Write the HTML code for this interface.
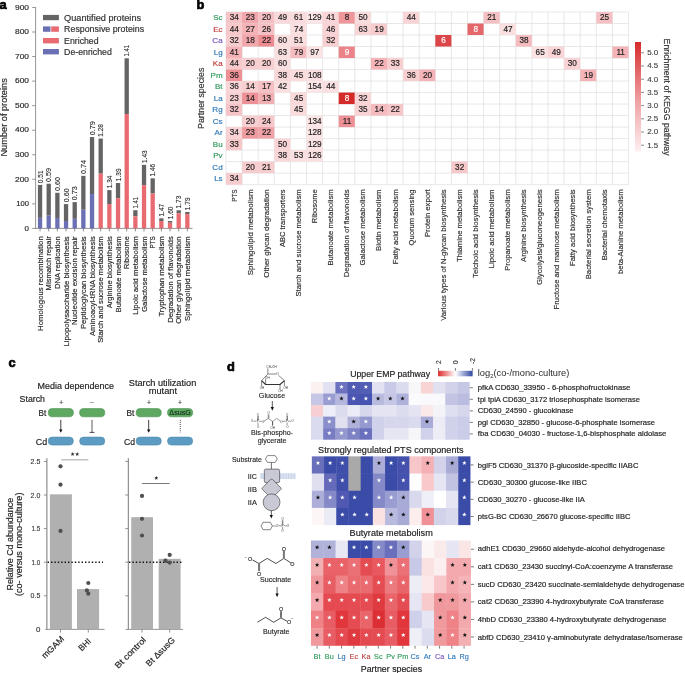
<!DOCTYPE html><html><head><meta charset="utf-8"><style>html,body{margin:0;padding:0;background:#fff;width:685px;height:673px;overflow:hidden}svg{display:block;will-change:transform}text{font-family:"Liberation Sans",sans-serif}</style></head><body>
<svg width="685" height="673" viewBox="0 0 685 673">
<text x="-0.60" y="8.90" font-size="12.8" fill="#000" font-weight="bold" stroke="#000" stroke-width="0.7">a</text>
<line x1="35.60" y1="7.00" x2="35.60" y2="228.40" stroke="#7a7a7a" stroke-width="0.8"/>
<line x1="35.20" y1="228.40" x2="192.50" y2="228.40" stroke="#7a7a7a" stroke-width="0.8"/>
<line x1="32.20" y1="228.40" x2="35.60" y2="228.40" stroke="#7a7a7a" stroke-width="0.8"/>
<text x="29.00" y="230.60" font-size="7.8" fill="#2a2a2a" stroke="#2a2a2a" stroke-width="0.180" text-anchor="end" textLength="4.40" lengthAdjust="spacingAndGlyphs">0</text>
<line x1="32.20" y1="203.85" x2="35.60" y2="203.85" stroke="#7a7a7a" stroke-width="0.8"/>
<text x="29.00" y="206.05" font-size="7.8" fill="#2a2a2a" stroke="#2a2a2a" stroke-width="0.180" text-anchor="end" textLength="12.71" lengthAdjust="spacingAndGlyphs">100</text>
<line x1="32.20" y1="179.30" x2="35.60" y2="179.30" stroke="#7a7a7a" stroke-width="0.8"/>
<text x="29.00" y="181.50" font-size="7.8" fill="#2a2a2a" stroke="#2a2a2a" stroke-width="0.180" text-anchor="end" textLength="14.01" lengthAdjust="spacingAndGlyphs">200</text>
<line x1="32.20" y1="154.75" x2="35.60" y2="154.75" stroke="#7a7a7a" stroke-width="0.8"/>
<text x="29.00" y="156.95" font-size="7.8" fill="#2a2a2a" stroke="#2a2a2a" stroke-width="0.180" text-anchor="end" textLength="14.01" lengthAdjust="spacingAndGlyphs">300</text>
<line x1="32.20" y1="130.20" x2="35.60" y2="130.20" stroke="#7a7a7a" stroke-width="0.8"/>
<text x="29.00" y="132.40" font-size="7.8" fill="#2a2a2a" stroke="#2a2a2a" stroke-width="0.180" text-anchor="end" textLength="14.01" lengthAdjust="spacingAndGlyphs">400</text>
<line x1="32.20" y1="105.65" x2="35.60" y2="105.65" stroke="#7a7a7a" stroke-width="0.8"/>
<text x="29.00" y="107.85" font-size="7.8" fill="#2a2a2a" stroke="#2a2a2a" stroke-width="0.180" text-anchor="end" textLength="14.01" lengthAdjust="spacingAndGlyphs">500</text>
<line x1="32.20" y1="81.10" x2="35.60" y2="81.10" stroke="#7a7a7a" stroke-width="0.8"/>
<text x="29.00" y="83.30" font-size="7.8" fill="#2a2a2a" stroke="#2a2a2a" stroke-width="0.180" text-anchor="end" textLength="14.01" lengthAdjust="spacingAndGlyphs">600</text>
<line x1="32.20" y1="56.55" x2="35.60" y2="56.55" stroke="#7a7a7a" stroke-width="0.8"/>
<text x="29.00" y="58.75" font-size="7.8" fill="#2a2a2a" stroke="#2a2a2a" stroke-width="0.180" text-anchor="end" textLength="14.01" lengthAdjust="spacingAndGlyphs">700</text>
<line x1="32.20" y1="32.00" x2="35.60" y2="32.00" stroke="#7a7a7a" stroke-width="0.8"/>
<text x="29.00" y="34.20" font-size="7.8" fill="#2a2a2a" stroke="#2a2a2a" stroke-width="0.180" text-anchor="end" textLength="14.01" lengthAdjust="spacingAndGlyphs">800</text>
<line x1="32.20" y1="7.45" x2="35.60" y2="7.45" stroke="#7a7a7a" stroke-width="0.8"/>
<text x="29.00" y="9.65" font-size="7.8" fill="#2a2a2a" stroke="#2a2a2a" stroke-width="0.180" text-anchor="end" textLength="14.01" lengthAdjust="spacingAndGlyphs">900</text>
<text x="0" y="0" font-size="9.0" fill="#2a2a2a" stroke="#2a2a2a" stroke-width="0.180" text-anchor="middle" textLength="78.30" lengthAdjust="spacingAndGlyphs" transform="translate(7.0,117.4) rotate(-90)">Number of proteins</text>
<rect x="43.00" y="14.90" width="15.90" height="5.30" fill="#646464"/>
<rect x="43.00" y="26.40" width="7.50" height="5.40" fill="#6b70b4"/>
<rect x="51.20" y="26.40" width="7.70" height="5.40" fill="#e86b72"/>
<rect x="43.00" y="38.00" width="15.90" height="5.40" fill="#e86b72"/>
<rect x="43.00" y="49.00" width="15.90" height="5.40" fill="#6b70b4"/>
<text x="64.10" y="20.80" font-size="8.2" fill="#333" stroke="#333" stroke-width="0.180" textLength="77.00" lengthAdjust="spacingAndGlyphs">Quantified proteins</text>
<text x="64.10" y="32.20" font-size="8.2" fill="#333" stroke="#333" stroke-width="0.180" textLength="80.00" lengthAdjust="spacingAndGlyphs">Responsive proteins</text>
<text x="64.10" y="43.70" font-size="8.2" fill="#333" stroke="#333" stroke-width="0.180" textLength="34.50" lengthAdjust="spacingAndGlyphs">Enriched</text>
<text x="64.10" y="55.00" font-size="8.2" fill="#333" stroke="#333" stroke-width="0.180" textLength="47.70" lengthAdjust="spacingAndGlyphs">De-enriched</text>
<rect x="37.90" y="184.95" width="4.30" height="32.90" fill="#646464"/>
<rect x="37.90" y="217.84" width="4.30" height="10.56" fill="#6b70b4"/>
<line x1="40.05" y1="228.40" x2="40.05" y2="231.40" stroke="#5a5a5a" stroke-width="0.7"/>
<text x="0" y="0" font-size="7.2" fill="#2a2a2a" stroke="#2a2a2a" stroke-width="0.126" textLength="12.70" lengthAdjust="spacingAndGlyphs" transform="translate(42.65,183.15) rotate(-90)">0.51</text>
<text x="0" y="0" font-size="8.0" fill="#2a2a2a" stroke="#2a2a2a" stroke-width="0.180" text-anchor="end" textLength="94.70" lengthAdjust="spacingAndGlyphs" transform="translate(42.75,236.30) rotate(-90)">Homologous recombination</text>
<rect x="46.56" y="183.72" width="4.30" height="31.92" fill="#646464"/>
<rect x="46.56" y="215.63" width="4.30" height="12.77" fill="#6b70b4"/>
<line x1="48.71" y1="228.40" x2="48.71" y2="231.40" stroke="#5a5a5a" stroke-width="0.7"/>
<text x="0" y="0" font-size="7.2" fill="#2a2a2a" stroke="#2a2a2a" stroke-width="0.126" textLength="14.00" lengthAdjust="spacingAndGlyphs" transform="translate(51.31,181.92) rotate(-90)">0.59</text>
<text x="0" y="0" font-size="8.0" fill="#2a2a2a" stroke="#2a2a2a" stroke-width="0.180" text-anchor="end" textLength="54.10" lengthAdjust="spacingAndGlyphs" transform="translate(51.41,236.30) rotate(-90)">Mismatch repair</text>
<rect x="55.23" y="192.80" width="4.30" height="25.29" fill="#646464"/>
<rect x="55.23" y="218.09" width="4.30" height="10.31" fill="#6b70b4"/>
<line x1="57.38" y1="228.40" x2="57.38" y2="231.40" stroke="#5a5a5a" stroke-width="0.7"/>
<text x="0" y="0" font-size="7.2" fill="#2a2a2a" stroke="#2a2a2a" stroke-width="0.126" textLength="14.00" lengthAdjust="spacingAndGlyphs" transform="translate(59.98,191.00) rotate(-90)">0.60</text>
<text x="0" y="0" font-size="8.0" fill="#2a2a2a" stroke="#2a2a2a" stroke-width="0.180" text-anchor="end" textLength="52.70" lengthAdjust="spacingAndGlyphs" transform="translate(60.08,236.30) rotate(-90)">DNA replication</text>
<rect x="63.89" y="204.10" width="4.30" height="16.94" fill="#646464"/>
<rect x="63.89" y="221.03" width="4.30" height="7.37" fill="#6b70b4"/>
<line x1="66.04" y1="228.40" x2="66.04" y2="231.40" stroke="#5a5a5a" stroke-width="0.7"/>
<text x="0" y="0" font-size="7.2" fill="#2a2a2a" stroke="#2a2a2a" stroke-width="0.126" textLength="14.00" lengthAdjust="spacingAndGlyphs" transform="translate(68.64,202.30) rotate(-90)">0.60</text>
<text x="0" y="0" font-size="8.0" fill="#2a2a2a" stroke="#2a2a2a" stroke-width="0.180" text-anchor="end" textLength="110.20" lengthAdjust="spacingAndGlyphs" transform="translate(68.74,236.30) rotate(-90)">Lipopolysaccharide biosynthesis</text>
<rect x="72.56" y="202.13" width="4.30" height="16.69" fill="#646464"/>
<rect x="72.56" y="218.83" width="4.30" height="9.57" fill="#6b70b4"/>
<line x1="74.71" y1="228.40" x2="74.71" y2="231.40" stroke="#5a5a5a" stroke-width="0.7"/>
<text x="0" y="0" font-size="7.2" fill="#2a2a2a" stroke="#2a2a2a" stroke-width="0.126" textLength="14.00" lengthAdjust="spacingAndGlyphs" transform="translate(77.31,200.33) rotate(-90)">0.73</text>
<text x="0" y="0" font-size="8.0" fill="#2a2a2a" stroke="#2a2a2a" stroke-width="0.180" text-anchor="end" textLength="88.60" lengthAdjust="spacingAndGlyphs" transform="translate(77.41,236.30) rotate(-90)">Nucleotide excision repair</text>
<rect x="81.22" y="175.86" width="4.30" height="33.88" fill="#646464"/>
<rect x="81.22" y="209.74" width="4.30" height="18.66" fill="#6b70b4"/>
<line x1="83.38" y1="228.40" x2="83.38" y2="231.40" stroke="#5a5a5a" stroke-width="0.7"/>
<text x="0" y="0" font-size="7.2" fill="#2a2a2a" stroke="#2a2a2a" stroke-width="0.126" textLength="14.00" lengthAdjust="spacingAndGlyphs" transform="translate(85.97,174.06) rotate(-90)">0.74</text>
<text x="0" y="0" font-size="8.0" fill="#2a2a2a" stroke="#2a2a2a" stroke-width="0.180" text-anchor="end" textLength="92.80" lengthAdjust="spacingAndGlyphs" transform="translate(86.08,236.30) rotate(-90)">Peptidoglycan biosynthesis</text>
<rect x="89.89" y="137.07" width="4.30" height="56.96" fill="#646464"/>
<rect x="89.89" y="194.03" width="4.30" height="34.37" fill="#6b70b4"/>
<line x1="92.04" y1="228.40" x2="92.04" y2="231.40" stroke="#5a5a5a" stroke-width="0.7"/>
<text x="0" y="0" font-size="7.2" fill="#2a2a2a" stroke="#2a2a2a" stroke-width="0.126" textLength="14.00" lengthAdjust="spacingAndGlyphs" transform="translate(94.64,135.27) rotate(-90)">0.79</text>
<text x="0" y="0" font-size="8.0" fill="#2a2a2a" stroke="#2a2a2a" stroke-width="0.180" text-anchor="end" textLength="99.70" lengthAdjust="spacingAndGlyphs" transform="translate(94.74,236.30) rotate(-90)">Aminoacyl-tRNA biosynthesis</text>
<rect x="98.55" y="138.55" width="4.30" height="35.11" fill="#646464"/>
<rect x="98.55" y="173.65" width="4.30" height="54.75" fill="#e86b72"/>
<line x1="100.70" y1="228.40" x2="100.70" y2="231.40" stroke="#5a5a5a" stroke-width="0.7"/>
<text x="0" y="0" font-size="7.2" fill="#2a2a2a" stroke="#2a2a2a" stroke-width="0.126" textLength="12.70" lengthAdjust="spacingAndGlyphs" transform="translate(103.30,136.75) rotate(-90)">1.28</text>
<text x="0" y="0" font-size="8.0" fill="#2a2a2a" stroke="#2a2a2a" stroke-width="0.180" text-anchor="end" textLength="106.50" lengthAdjust="spacingAndGlyphs" transform="translate(103.40,236.30) rotate(-90)">Starch and sucrose metabolism</text>
<rect x="107.22" y="190.10" width="4.30" height="13.99" fill="#646464"/>
<rect x="107.22" y="204.10" width="4.30" height="24.30" fill="#e86b72"/>
<line x1="109.37" y1="228.40" x2="109.37" y2="231.40" stroke="#5a5a5a" stroke-width="0.7"/>
<text x="0" y="0" font-size="7.2" fill="#2a2a2a" stroke="#2a2a2a" stroke-width="0.126" textLength="12.70" lengthAdjust="spacingAndGlyphs" transform="translate(111.97,188.30) rotate(-90)">1.34</text>
<text x="0" y="0" font-size="8.0" fill="#2a2a2a" stroke="#2a2a2a" stroke-width="0.180" text-anchor="end" textLength="72.00" lengthAdjust="spacingAndGlyphs" transform="translate(112.07,236.30) rotate(-90)">Arginine biosynthesis</text>
<rect x="115.88" y="182.98" width="4.30" height="15.22" fill="#646464"/>
<rect x="115.88" y="198.20" width="4.30" height="30.20" fill="#e86b72"/>
<line x1="118.03" y1="228.40" x2="118.03" y2="231.40" stroke="#5a5a5a" stroke-width="0.7"/>
<text x="0" y="0" font-size="7.2" fill="#2a2a2a" stroke="#2a2a2a" stroke-width="0.126" textLength="12.70" lengthAdjust="spacingAndGlyphs" transform="translate(120.63,181.18) rotate(-90)">1.39</text>
<text x="0" y="0" font-size="8.0" fill="#2a2a2a" stroke="#2a2a2a" stroke-width="0.180" text-anchor="end" textLength="76.10" lengthAdjust="spacingAndGlyphs" transform="translate(120.73,236.30) rotate(-90)">Butanoate metabolism</text>
<rect x="124.55" y="58.27" width="4.30" height="55.73" fill="#646464"/>
<rect x="124.55" y="114.00" width="4.30" height="114.40" fill="#e86b72"/>
<line x1="126.70" y1="228.40" x2="126.70" y2="231.40" stroke="#5a5a5a" stroke-width="0.7"/>
<text x="0" y="0" font-size="7.2" fill="#2a2a2a" stroke="#2a2a2a" stroke-width="0.126" textLength="11.40" lengthAdjust="spacingAndGlyphs" transform="translate(129.30,56.47) rotate(-90)">1.41</text>
<text x="0" y="0" font-size="8.0" fill="#2a2a2a" stroke="#2a2a2a" stroke-width="0.180" text-anchor="end" textLength="32.70" lengthAdjust="spacingAndGlyphs" transform="translate(129.40,236.30) rotate(-90)">Ribosome</text>
<rect x="133.22" y="210.23" width="4.30" height="6.14" fill="#646464"/>
<rect x="133.22" y="216.37" width="4.30" height="12.03" fill="#e86b72"/>
<line x1="135.37" y1="228.40" x2="135.37" y2="231.40" stroke="#5a5a5a" stroke-width="0.7"/>
<text x="0" y="0" font-size="7.2" fill="#2a2a2a" stroke="#2a2a2a" stroke-width="0.126" textLength="11.40" lengthAdjust="spacingAndGlyphs" transform="translate(137.97,208.43) rotate(-90)">1.41</text>
<text x="0" y="0" font-size="8.0" fill="#2a2a2a" stroke="#2a2a2a" stroke-width="0.180" text-anchor="end" textLength="78.40" lengthAdjust="spacingAndGlyphs" transform="translate(138.06,236.30) rotate(-90)">Lipoic acid metabolism</text>
<rect x="141.88" y="164.82" width="4.30" height="20.38" fill="#646464"/>
<rect x="141.88" y="185.19" width="4.30" height="43.21" fill="#e86b72"/>
<line x1="144.03" y1="228.40" x2="144.03" y2="231.40" stroke="#5a5a5a" stroke-width="0.7"/>
<text x="0" y="0" font-size="7.2" fill="#2a2a2a" stroke="#2a2a2a" stroke-width="0.126" textLength="12.70" lengthAdjust="spacingAndGlyphs" transform="translate(146.63,163.02) rotate(-90)">1.43</text>
<text x="0" y="0" font-size="8.0" fill="#2a2a2a" stroke="#2a2a2a" stroke-width="0.180" text-anchor="end" textLength="75.70" lengthAdjust="spacingAndGlyphs" transform="translate(146.73,236.30) rotate(-90)">Galactose metabolism</text>
<rect x="150.54" y="178.32" width="4.30" height="15.22" fill="#646464"/>
<rect x="150.54" y="193.54" width="4.30" height="34.86" fill="#e86b72"/>
<line x1="152.69" y1="228.40" x2="152.69" y2="231.40" stroke="#5a5a5a" stroke-width="0.7"/>
<text x="0" y="0" font-size="7.2" fill="#2a2a2a" stroke="#2a2a2a" stroke-width="0.126" textLength="12.70" lengthAdjust="spacingAndGlyphs" transform="translate(155.29,176.52) rotate(-90)">1.46</text>
<text x="0" y="0" font-size="8.0" fill="#2a2a2a" stroke="#2a2a2a" stroke-width="0.180" text-anchor="end" textLength="12.20" lengthAdjust="spacingAndGlyphs" transform="translate(155.39,236.30) rotate(-90)">PTS</text>
<rect x="159.21" y="218.33" width="4.30" height="2.70" fill="#646464"/>
<rect x="159.21" y="221.03" width="4.30" height="7.37" fill="#e86b72"/>
<line x1="161.36" y1="228.40" x2="161.36" y2="231.40" stroke="#5a5a5a" stroke-width="0.7"/>
<text x="0" y="0" font-size="7.2" fill="#2a2a2a" stroke="#2a2a2a" stroke-width="0.126" textLength="12.70" lengthAdjust="spacingAndGlyphs" transform="translate(163.96,216.53) rotate(-90)">1.47</text>
<text x="0" y="0" font-size="8.0" fill="#2a2a2a" stroke="#2a2a2a" stroke-width="0.180" text-anchor="end" textLength="80.30" lengthAdjust="spacingAndGlyphs" transform="translate(164.06,236.30) rotate(-90)">Tryptophan metabolism</text>
<rect x="167.87" y="221.03" width="4.30" height="1.72" fill="#646464"/>
<rect x="167.87" y="222.75" width="4.30" height="5.65" fill="#e86b72"/>
<line x1="170.02" y1="228.40" x2="170.02" y2="231.40" stroke="#5a5a5a" stroke-width="0.7"/>
<text x="0" y="0" font-size="7.2" fill="#2a2a2a" stroke="#2a2a2a" stroke-width="0.126" textLength="12.70" lengthAdjust="spacingAndGlyphs" transform="translate(172.62,219.23) rotate(-90)">1.60</text>
<text x="0" y="0" font-size="8.0" fill="#2a2a2a" stroke="#2a2a2a" stroke-width="0.180" text-anchor="end" textLength="86.50" lengthAdjust="spacingAndGlyphs" transform="translate(172.72,236.30) rotate(-90)">Degradation of flavonoids</text>
<rect x="176.54" y="210.23" width="4.30" height="2.95" fill="#646464"/>
<rect x="176.54" y="213.18" width="4.30" height="15.22" fill="#e86b72"/>
<line x1="178.69" y1="228.40" x2="178.69" y2="231.40" stroke="#5a5a5a" stroke-width="0.7"/>
<text x="0" y="0" font-size="7.2" fill="#2a2a2a" stroke="#2a2a2a" stroke-width="0.126" textLength="12.70" lengthAdjust="spacingAndGlyphs" transform="translate(181.29,208.43) rotate(-90)">1.73</text>
<text x="0" y="0" font-size="8.0" fill="#2a2a2a" stroke="#2a2a2a" stroke-width="0.180" text-anchor="end" textLength="87.40" lengthAdjust="spacingAndGlyphs" transform="translate(181.39,236.30) rotate(-90)">Other glycan degradation</text>
<rect x="185.20" y="211.95" width="4.30" height="2.21" fill="#646464"/>
<rect x="185.20" y="214.16" width="4.30" height="14.24" fill="#e86b72"/>
<line x1="187.35" y1="228.40" x2="187.35" y2="231.40" stroke="#5a5a5a" stroke-width="0.7"/>
<text x="0" y="0" font-size="7.2" fill="#2a2a2a" stroke="#2a2a2a" stroke-width="0.126" textLength="12.70" lengthAdjust="spacingAndGlyphs" transform="translate(189.95,210.15) rotate(-90)">1.79</text>
<text x="0" y="0" font-size="8.0" fill="#2a2a2a" stroke="#2a2a2a" stroke-width="0.180" text-anchor="end" textLength="84.70" lengthAdjust="spacingAndGlyphs" transform="translate(190.05,236.30) rotate(-90)">Sphingolipid metabolism</text>
<text x="196.40" y="9.20" font-size="12.8" fill="#000" font-weight="bold" stroke="#000" stroke-width="0.7">b</text>
<line x1="226.00" y1="12.00" x2="628.50" y2="12.00" stroke="#dedede" stroke-width="0.7"/>
<line x1="226.00" y1="23.51" x2="628.50" y2="23.51" stroke="#dedede" stroke-width="0.7"/>
<line x1="226.00" y1="35.02" x2="628.50" y2="35.02" stroke="#dedede" stroke-width="0.7"/>
<line x1="226.00" y1="46.53" x2="628.50" y2="46.53" stroke="#dedede" stroke-width="0.7"/>
<line x1="226.00" y1="58.04" x2="628.50" y2="58.04" stroke="#dedede" stroke-width="0.7"/>
<line x1="226.00" y1="69.55" x2="628.50" y2="69.55" stroke="#dedede" stroke-width="0.7"/>
<line x1="226.00" y1="81.06" x2="628.50" y2="81.06" stroke="#dedede" stroke-width="0.7"/>
<line x1="226.00" y1="92.57" x2="628.50" y2="92.57" stroke="#dedede" stroke-width="0.7"/>
<line x1="226.00" y1="104.08" x2="628.50" y2="104.08" stroke="#dedede" stroke-width="0.7"/>
<line x1="226.00" y1="115.59" x2="628.50" y2="115.59" stroke="#dedede" stroke-width="0.7"/>
<line x1="226.00" y1="127.10" x2="628.50" y2="127.10" stroke="#dedede" stroke-width="0.7"/>
<line x1="226.00" y1="138.61" x2="628.50" y2="138.61" stroke="#dedede" stroke-width="0.7"/>
<line x1="226.00" y1="150.12" x2="628.50" y2="150.12" stroke="#dedede" stroke-width="0.7"/>
<line x1="226.00" y1="161.63" x2="628.50" y2="161.63" stroke="#dedede" stroke-width="0.7"/>
<line x1="226.00" y1="173.14" x2="628.50" y2="173.14" stroke="#dedede" stroke-width="0.7"/>
<line x1="226.00" y1="184.65" x2="628.50" y2="184.65" stroke="#dedede" stroke-width="0.7"/>
<line x1="226.00" y1="12.00" x2="226.00" y2="184.65" stroke="#dedede" stroke-width="0.7"/>
<line x1="242.10" y1="12.00" x2="242.10" y2="184.65" stroke="#dedede" stroke-width="0.7"/>
<line x1="258.20" y1="12.00" x2="258.20" y2="184.65" stroke="#dedede" stroke-width="0.7"/>
<line x1="274.30" y1="12.00" x2="274.30" y2="184.65" stroke="#dedede" stroke-width="0.7"/>
<line x1="290.40" y1="12.00" x2="290.40" y2="184.65" stroke="#dedede" stroke-width="0.7"/>
<line x1="306.50" y1="12.00" x2="306.50" y2="184.65" stroke="#dedede" stroke-width="0.7"/>
<line x1="322.60" y1="12.00" x2="322.60" y2="184.65" stroke="#dedede" stroke-width="0.7"/>
<line x1="338.70" y1="12.00" x2="338.70" y2="184.65" stroke="#dedede" stroke-width="0.7"/>
<line x1="354.80" y1="12.00" x2="354.80" y2="184.65" stroke="#dedede" stroke-width="0.7"/>
<line x1="370.90" y1="12.00" x2="370.90" y2="184.65" stroke="#dedede" stroke-width="0.7"/>
<line x1="387.00" y1="12.00" x2="387.00" y2="184.65" stroke="#dedede" stroke-width="0.7"/>
<line x1="403.10" y1="12.00" x2="403.10" y2="184.65" stroke="#dedede" stroke-width="0.7"/>
<line x1="419.20" y1="12.00" x2="419.20" y2="184.65" stroke="#dedede" stroke-width="0.7"/>
<line x1="435.30" y1="12.00" x2="435.30" y2="184.65" stroke="#dedede" stroke-width="0.7"/>
<line x1="451.40" y1="12.00" x2="451.40" y2="184.65" stroke="#dedede" stroke-width="0.7"/>
<line x1="467.50" y1="12.00" x2="467.50" y2="184.65" stroke="#dedede" stroke-width="0.7"/>
<line x1="483.60" y1="12.00" x2="483.60" y2="184.65" stroke="#dedede" stroke-width="0.7"/>
<line x1="499.70" y1="12.00" x2="499.70" y2="184.65" stroke="#dedede" stroke-width="0.7"/>
<line x1="515.80" y1="12.00" x2="515.80" y2="184.65" stroke="#dedede" stroke-width="0.7"/>
<line x1="531.90" y1="12.00" x2="531.90" y2="184.65" stroke="#dedede" stroke-width="0.7"/>
<line x1="548.00" y1="12.00" x2="548.00" y2="184.65" stroke="#dedede" stroke-width="0.7"/>
<line x1="564.10" y1="12.00" x2="564.10" y2="184.65" stroke="#dedede" stroke-width="0.7"/>
<line x1="580.20" y1="12.00" x2="580.20" y2="184.65" stroke="#dedede" stroke-width="0.7"/>
<line x1="596.30" y1="12.00" x2="596.30" y2="184.65" stroke="#dedede" stroke-width="0.7"/>
<line x1="612.40" y1="12.00" x2="612.40" y2="184.65" stroke="#dedede" stroke-width="0.7"/>
<line x1="628.50" y1="12.00" x2="628.50" y2="184.65" stroke="#dedede" stroke-width="0.7"/>
<rect x="226.00" y="12.00" width="16.10" height="11.51" fill="#f6c3c6"/>
<text x="234.25" y="20.05" font-size="8.2" fill="#1e1e1e" stroke="#1e1e1e" stroke-width="0.180" text-anchor="middle">34</text>
<rect x="242.10" y="12.00" width="16.10" height="11.51" fill="#f1a7ab"/>
<text x="250.35" y="20.05" font-size="8.2" fill="#1e1e1e" stroke="#1e1e1e" stroke-width="0.180" text-anchor="middle">23</text>
<rect x="258.20" y="12.00" width="16.10" height="11.51" fill="#f5c0c3"/>
<text x="266.45" y="20.05" font-size="8.2" fill="#1e1e1e" stroke="#1e1e1e" stroke-width="0.180" text-anchor="middle">20</text>
<rect x="274.30" y="12.00" width="16.10" height="11.51" fill="#f9d9da"/>
<text x="282.55" y="20.05" font-size="8.2" fill="#1e1e1e" stroke="#1e1e1e" stroke-width="0.180" text-anchor="middle">49</text>
<rect x="290.40" y="12.00" width="16.10" height="11.51" fill="#fadcdd"/>
<text x="298.65" y="20.05" font-size="8.2" fill="#1e1e1e" stroke="#1e1e1e" stroke-width="0.180" text-anchor="middle">61</text>
<rect x="306.50" y="12.00" width="16.10" height="11.51" fill="#fce6e7"/>
<text x="314.75" y="20.05" font-size="8.2" fill="#1e1e1e" stroke="#1e1e1e" stroke-width="0.180" text-anchor="middle">129</text>
<rect x="322.60" y="12.00" width="16.10" height="11.51" fill="#f9d5d7"/>
<text x="330.85" y="20.05" font-size="8.2" fill="#1e1e1e" stroke="#1e1e1e" stroke-width="0.180" text-anchor="middle">41</text>
<rect x="338.70" y="12.00" width="16.10" height="11.51" fill="#ee969a"/>
<text x="346.95" y="20.05" font-size="8.2" fill="#1e1e1e" stroke="#1e1e1e" stroke-width="0.180" text-anchor="middle">8</text>
<rect x="354.80" y="12.00" width="16.10" height="11.51" fill="#fadcdd"/>
<text x="363.05" y="20.05" font-size="8.2" fill="#1e1e1e" stroke="#1e1e1e" stroke-width="0.180" text-anchor="middle">50</text>
<rect x="403.10" y="12.00" width="16.10" height="11.51" fill="#f8d4d6"/>
<text x="411.35" y="20.05" font-size="8.2" fill="#1e1e1e" stroke="#1e1e1e" stroke-width="0.180" text-anchor="middle">44</text>
<rect x="483.60" y="12.00" width="16.10" height="11.51" fill="#f5c0c3"/>
<text x="491.85" y="20.05" font-size="8.2" fill="#1e1e1e" stroke="#1e1e1e" stroke-width="0.180" text-anchor="middle">21</text>
<rect x="596.30" y="12.00" width="16.10" height="11.51" fill="#f5c0c3"/>
<text x="604.55" y="20.05" font-size="8.2" fill="#1e1e1e" stroke="#1e1e1e" stroke-width="0.180" text-anchor="middle">25</text>
<text x="222.60" y="20.36" font-size="8.0" fill="#2f9a5c" stroke="#2f9a5c" stroke-width="0.180" text-anchor="end">Sc</text>
<rect x="226.00" y="23.51" width="16.10" height="11.51" fill="#f6c8ca"/>
<text x="234.25" y="31.56" font-size="8.2" fill="#1e1e1e" stroke="#1e1e1e" stroke-width="0.180" text-anchor="middle">44</text>
<rect x="242.10" y="23.51" width="16.10" height="11.51" fill="#f3b3b7"/>
<text x="250.35" y="31.56" font-size="8.2" fill="#1e1e1e" stroke="#1e1e1e" stroke-width="0.180" text-anchor="middle">27</text>
<rect x="258.20" y="23.51" width="16.10" height="11.51" fill="#f5c0c3"/>
<text x="266.45" y="31.56" font-size="8.2" fill="#1e1e1e" stroke="#1e1e1e" stroke-width="0.180" text-anchor="middle">26</text>
<rect x="290.40" y="23.51" width="16.10" height="11.51" fill="#fadfe0"/>
<text x="298.65" y="31.56" font-size="8.2" fill="#1e1e1e" stroke="#1e1e1e" stroke-width="0.180" text-anchor="middle">74</text>
<rect x="322.60" y="23.51" width="16.10" height="11.51" fill="#f8d2d4"/>
<text x="330.85" y="31.56" font-size="8.2" fill="#1e1e1e" stroke="#1e1e1e" stroke-width="0.180" text-anchor="middle">46</text>
<rect x="354.80" y="23.51" width="16.10" height="11.51" fill="#f9d5d7"/>
<text x="363.05" y="31.56" font-size="8.2" fill="#1e1e1e" stroke="#1e1e1e" stroke-width="0.180" text-anchor="middle">63</text>
<rect x="370.90" y="23.51" width="16.10" height="11.51" fill="#f7ccce"/>
<text x="379.15" y="31.56" font-size="8.2" fill="#1e1e1e" stroke="#1e1e1e" stroke-width="0.180" text-anchor="middle">19</text>
<rect x="467.50" y="23.51" width="16.10" height="11.51" fill="#e4676b"/>
<text x="475.75" y="31.56" font-size="8.2" fill="#fff" stroke="#fff" stroke-width="0.180" text-anchor="middle">8</text>
<rect x="499.70" y="23.51" width="16.10" height="11.51" fill="#fadfe0"/>
<text x="507.95" y="31.56" font-size="8.2" fill="#1e1e1e" stroke="#1e1e1e" stroke-width="0.180" text-anchor="middle">47</text>
<text x="222.60" y="31.86" font-size="8.0" fill="#c03f3f" stroke="#c03f3f" stroke-width="0.180" text-anchor="end">Ec</text>
<rect x="226.00" y="35.02" width="16.10" height="11.51" fill="#f7ccce"/>
<text x="234.25" y="43.07" font-size="8.2" fill="#1e1e1e" stroke="#1e1e1e" stroke-width="0.180" text-anchor="middle">32</text>
<rect x="242.10" y="35.02" width="16.10" height="11.51" fill="#f1a7ab"/>
<text x="250.35" y="43.07" font-size="8.2" fill="#1e1e1e" stroke="#1e1e1e" stroke-width="0.180" text-anchor="middle">18</text>
<rect x="258.20" y="35.02" width="16.10" height="11.51" fill="#ec8b90"/>
<text x="266.45" y="43.07" font-size="8.2" fill="#1e1e1e" stroke="#1e1e1e" stroke-width="0.180" text-anchor="middle">22</text>
<rect x="274.30" y="35.02" width="16.10" height="11.51" fill="#fadfe0"/>
<text x="282.55" y="43.07" font-size="8.2" fill="#1e1e1e" stroke="#1e1e1e" stroke-width="0.180" text-anchor="middle">60</text>
<rect x="290.40" y="35.02" width="16.10" height="11.51" fill="#fadcdd"/>
<text x="298.65" y="43.07" font-size="8.2" fill="#1e1e1e" stroke="#1e1e1e" stroke-width="0.180" text-anchor="middle">51</text>
<rect x="322.60" y="35.02" width="16.10" height="11.51" fill="#f8cfd1"/>
<text x="330.85" y="43.07" font-size="8.2" fill="#1e1e1e" stroke="#1e1e1e" stroke-width="0.180" text-anchor="middle">32</text>
<rect x="435.30" y="35.02" width="16.10" height="11.51" fill="#dc4648"/>
<text x="443.55" y="43.07" font-size="8.2" fill="#fff" stroke="#fff" stroke-width="0.180" text-anchor="middle">6</text>
<rect x="515.80" y="35.02" width="16.10" height="11.51" fill="#f4bcbf"/>
<text x="524.05" y="43.07" font-size="8.2" fill="#1e1e1e" stroke="#1e1e1e" stroke-width="0.180" text-anchor="middle">38</text>
<text x="222.60" y="43.38" font-size="8.0" fill="#7a55bb" stroke="#7a55bb" stroke-width="0.180" text-anchor="end">Ca</text>
<rect x="226.00" y="46.53" width="16.10" height="11.51" fill="#f3b3b7"/>
<text x="234.25" y="54.59" font-size="8.2" fill="#1e1e1e" stroke="#1e1e1e" stroke-width="0.180" text-anchor="middle">41</text>
<rect x="274.30" y="46.53" width="16.10" height="11.51" fill="#fadfe0"/>
<text x="282.55" y="54.59" font-size="8.2" fill="#1e1e1e" stroke="#1e1e1e" stroke-width="0.180" text-anchor="middle">63</text>
<rect x="290.40" y="46.53" width="16.10" height="11.51" fill="#f4bcbf"/>
<text x="298.65" y="54.59" font-size="8.2" fill="#1e1e1e" stroke="#1e1e1e" stroke-width="0.180" text-anchor="middle">79</text>
<rect x="306.50" y="46.53" width="16.10" height="11.51" fill="#fbe3e4"/>
<text x="314.75" y="54.59" font-size="8.2" fill="#1e1e1e" stroke="#1e1e1e" stroke-width="0.180" text-anchor="middle">97</text>
<rect x="338.70" y="46.53" width="16.10" height="11.51" fill="#ea8489"/>
<text x="346.95" y="54.59" font-size="8.2" fill="#fff" stroke="#fff" stroke-width="0.180" text-anchor="middle">9</text>
<rect x="531.90" y="46.53" width="16.10" height="11.51" fill="#fbe2e3"/>
<text x="540.15" y="54.59" font-size="8.2" fill="#1e1e1e" stroke="#1e1e1e" stroke-width="0.180" text-anchor="middle">65</text>
<rect x="548.00" y="46.53" width="16.10" height="11.51" fill="#f9d5d7"/>
<text x="556.25" y="54.59" font-size="8.2" fill="#1e1e1e" stroke="#1e1e1e" stroke-width="0.180" text-anchor="middle">49</text>
<rect x="612.40" y="46.53" width="16.10" height="11.51" fill="#f3b3b7"/>
<text x="620.65" y="54.59" font-size="8.2" fill="#1e1e1e" stroke="#1e1e1e" stroke-width="0.180" text-anchor="middle">11</text>
<text x="222.60" y="54.89" font-size="8.0" fill="#2f78b8" stroke="#2f78b8" stroke-width="0.180" text-anchor="end">Lg</text>
<rect x="226.00" y="58.04" width="16.10" height="11.51" fill="#f6c8ca"/>
<text x="234.25" y="66.09" font-size="8.2" fill="#1e1e1e" stroke="#1e1e1e" stroke-width="0.180" text-anchor="middle">44</text>
<rect x="242.10" y="58.04" width="16.10" height="11.51" fill="#f8cfd1"/>
<text x="250.35" y="66.09" font-size="8.2" fill="#1e1e1e" stroke="#1e1e1e" stroke-width="0.180" text-anchor="middle">20</text>
<rect x="258.20" y="58.04" width="16.10" height="11.51" fill="#f8cfd1"/>
<text x="266.45" y="66.09" font-size="8.2" fill="#1e1e1e" stroke="#1e1e1e" stroke-width="0.180" text-anchor="middle">20</text>
<rect x="274.30" y="58.04" width="16.10" height="11.51" fill="#fadfe0"/>
<text x="282.55" y="66.09" font-size="8.2" fill="#1e1e1e" stroke="#1e1e1e" stroke-width="0.180" text-anchor="middle">60</text>
<rect x="370.90" y="58.04" width="16.10" height="11.51" fill="#f3b3b7"/>
<text x="379.15" y="66.09" font-size="8.2" fill="#1e1e1e" stroke="#1e1e1e" stroke-width="0.180" text-anchor="middle">22</text>
<rect x="387.00" y="58.04" width="16.10" height="11.51" fill="#f8cfd1"/>
<text x="395.25" y="66.09" font-size="8.2" fill="#1e1e1e" stroke="#1e1e1e" stroke-width="0.180" text-anchor="middle">33</text>
<rect x="564.10" y="58.04" width="16.10" height="11.51" fill="#f8d2d4"/>
<text x="572.35" y="66.09" font-size="8.2" fill="#1e1e1e" stroke="#1e1e1e" stroke-width="0.180" text-anchor="middle">30</text>
<text x="222.60" y="66.39" font-size="8.0" fill="#c03f3f" stroke="#c03f3f" stroke-width="0.180" text-anchor="end">Ka</text>
<rect x="226.00" y="69.55" width="16.10" height="11.51" fill="#ed9196"/>
<text x="234.25" y="77.60" font-size="8.2" fill="#1e1e1e" stroke="#1e1e1e" stroke-width="0.180" text-anchor="middle">36</text>
<rect x="274.30" y="69.55" width="16.10" height="11.51" fill="#f9d7d8"/>
<text x="282.55" y="77.60" font-size="8.2" fill="#1e1e1e" stroke="#1e1e1e" stroke-width="0.180" text-anchor="middle">38</text>
<rect x="290.40" y="69.55" width="16.10" height="11.51" fill="#fadcdd"/>
<text x="298.65" y="77.60" font-size="8.2" fill="#1e1e1e" stroke="#1e1e1e" stroke-width="0.180" text-anchor="middle">45</text>
<rect x="306.50" y="69.55" width="16.10" height="11.51" fill="#fadfe0"/>
<text x="314.75" y="77.60" font-size="8.2" fill="#1e1e1e" stroke="#1e1e1e" stroke-width="0.180" text-anchor="middle">108</text>
<rect x="403.10" y="69.55" width="16.10" height="11.51" fill="#f8cfd1"/>
<text x="411.35" y="77.60" font-size="8.2" fill="#1e1e1e" stroke="#1e1e1e" stroke-width="0.180" text-anchor="middle">36</text>
<rect x="419.20" y="69.55" width="16.10" height="11.51" fill="#f3b3b7"/>
<text x="427.45" y="77.60" font-size="8.2" fill="#1e1e1e" stroke="#1e1e1e" stroke-width="0.180" text-anchor="middle">20</text>
<rect x="580.20" y="69.55" width="16.10" height="11.51" fill="#f3b3b7"/>
<text x="588.45" y="77.60" font-size="8.2" fill="#1e1e1e" stroke="#1e1e1e" stroke-width="0.180" text-anchor="middle">19</text>
<text x="222.60" y="77.90" font-size="8.0" fill="#2f9a5c" stroke="#2f9a5c" stroke-width="0.180" text-anchor="end">Pm</text>
<rect x="226.00" y="81.06" width="16.10" height="11.51" fill="#f9d5d7"/>
<text x="234.25" y="89.11" font-size="8.2" fill="#1e1e1e" stroke="#1e1e1e" stroke-width="0.180" text-anchor="middle">36</text>
<rect x="242.10" y="81.06" width="16.10" height="11.51" fill="#f8cfd1"/>
<text x="250.35" y="89.11" font-size="8.2" fill="#1e1e1e" stroke="#1e1e1e" stroke-width="0.180" text-anchor="middle">14</text>
<rect x="258.20" y="81.06" width="16.10" height="11.51" fill="#f5c0c3"/>
<text x="266.45" y="89.11" font-size="8.2" fill="#1e1e1e" stroke="#1e1e1e" stroke-width="0.180" text-anchor="middle">17</text>
<rect x="274.30" y="81.06" width="16.10" height="11.51" fill="#fadfe0"/>
<text x="282.55" y="89.11" font-size="8.2" fill="#1e1e1e" stroke="#1e1e1e" stroke-width="0.180" text-anchor="middle">42</text>
<rect x="306.50" y="81.06" width="16.10" height="11.51" fill="#fce6e7"/>
<text x="314.75" y="89.11" font-size="8.2" fill="#1e1e1e" stroke="#1e1e1e" stroke-width="0.180" text-anchor="middle">154</text>
<rect x="322.60" y="81.06" width="16.10" height="11.51" fill="#fadfe0"/>
<text x="330.85" y="89.11" font-size="8.2" fill="#1e1e1e" stroke="#1e1e1e" stroke-width="0.180" text-anchor="middle">44</text>
<text x="222.60" y="89.41" font-size="8.0" fill="#2f9a5c" stroke="#2f9a5c" stroke-width="0.180" text-anchor="end">Bt</text>
<rect x="226.00" y="92.57" width="16.10" height="11.51" fill="#f8cfd1"/>
<text x="234.25" y="100.62" font-size="8.2" fill="#1e1e1e" stroke="#1e1e1e" stroke-width="0.180" text-anchor="middle">23</text>
<rect x="242.10" y="92.57" width="16.10" height="11.51" fill="#ed9196"/>
<text x="250.35" y="100.62" font-size="8.2" fill="#1e1e1e" stroke="#1e1e1e" stroke-width="0.180" text-anchor="middle">14</text>
<rect x="258.20" y="92.57" width="16.10" height="11.51" fill="#f2afb3"/>
<text x="266.45" y="100.62" font-size="8.2" fill="#1e1e1e" stroke="#1e1e1e" stroke-width="0.180" text-anchor="middle">13</text>
<rect x="290.40" y="92.57" width="16.10" height="11.51" fill="#f9d9da"/>
<text x="298.65" y="100.62" font-size="8.2" fill="#1e1e1e" stroke="#1e1e1e" stroke-width="0.180" text-anchor="middle">45</text>
<rect x="338.70" y="92.57" width="16.10" height="11.51" fill="#d42a2a"/>
<text x="346.95" y="100.62" font-size="8.2" fill="#fff" stroke="#fff" stroke-width="0.180" text-anchor="middle">8</text>
<rect x="354.80" y="92.57" width="16.10" height="11.51" fill="#f9d5d7"/>
<text x="363.05" y="100.62" font-size="8.2" fill="#1e1e1e" stroke="#1e1e1e" stroke-width="0.180" text-anchor="middle">32</text>
<text x="222.60" y="100.92" font-size="8.0" fill="#2f78b8" stroke="#2f78b8" stroke-width="0.180" text-anchor="end">La</text>
<rect x="226.00" y="104.08" width="16.10" height="11.51" fill="#f6c3c6"/>
<text x="234.25" y="112.13" font-size="8.2" fill="#1e1e1e" stroke="#1e1e1e" stroke-width="0.180" text-anchor="middle">32</text>
<rect x="290.40" y="104.08" width="16.10" height="11.51" fill="#fadcdd"/>
<text x="298.65" y="112.13" font-size="8.2" fill="#1e1e1e" stroke="#1e1e1e" stroke-width="0.180" text-anchor="middle">45</text>
<rect x="354.80" y="104.08" width="16.10" height="11.51" fill="#f8d2d4"/>
<text x="363.05" y="112.13" font-size="8.2" fill="#1e1e1e" stroke="#1e1e1e" stroke-width="0.180" text-anchor="middle">35</text>
<rect x="370.90" y="104.08" width="16.10" height="11.51" fill="#f4bcbf"/>
<text x="379.15" y="112.13" font-size="8.2" fill="#1e1e1e" stroke="#1e1e1e" stroke-width="0.180" text-anchor="middle">14</text>
<rect x="387.00" y="104.08" width="16.10" height="11.51" fill="#f6c6c9"/>
<text x="395.25" y="112.13" font-size="8.2" fill="#1e1e1e" stroke="#1e1e1e" stroke-width="0.180" text-anchor="middle">22</text>
<text x="222.60" y="112.43" font-size="8.0" fill="#2f78b8" stroke="#2f78b8" stroke-width="0.180" text-anchor="end">Rg</text>
<rect x="242.10" y="115.59" width="16.10" height="11.51" fill="#f8cfd1"/>
<text x="250.35" y="123.64" font-size="8.2" fill="#1e1e1e" stroke="#1e1e1e" stroke-width="0.180" text-anchor="middle">20</text>
<rect x="258.20" y="115.59" width="16.10" height="11.51" fill="#f6c8ca"/>
<text x="266.45" y="123.64" font-size="8.2" fill="#1e1e1e" stroke="#1e1e1e" stroke-width="0.180" text-anchor="middle">24</text>
<rect x="306.50" y="115.59" width="16.10" height="11.51" fill="#fbe5e5"/>
<text x="314.75" y="123.64" font-size="8.2" fill="#1e1e1e" stroke="#1e1e1e" stroke-width="0.180" text-anchor="middle">134</text>
<rect x="338.70" y="115.59" width="16.10" height="11.51" fill="#ed9196"/>
<text x="346.95" y="123.64" font-size="8.2" fill="#1e1e1e" stroke="#1e1e1e" stroke-width="0.180" text-anchor="middle">11</text>
<text x="222.60" y="123.94" font-size="8.0" fill="#2f78b8" stroke="#2f78b8" stroke-width="0.180" text-anchor="end">Cs</text>
<rect x="226.00" y="127.10" width="16.10" height="11.51" fill="#f8d2d4"/>
<text x="234.25" y="135.16" font-size="8.2" fill="#1e1e1e" stroke="#1e1e1e" stroke-width="0.180" text-anchor="middle">34</text>
<rect x="242.10" y="127.10" width="16.10" height="11.51" fill="#ef9ca0"/>
<text x="250.35" y="135.16" font-size="8.2" fill="#1e1e1e" stroke="#1e1e1e" stroke-width="0.180" text-anchor="middle">23</text>
<rect x="258.20" y="127.10" width="16.10" height="11.51" fill="#f0a2a6"/>
<text x="266.45" y="135.16" font-size="8.2" fill="#1e1e1e" stroke="#1e1e1e" stroke-width="0.180" text-anchor="middle">22</text>
<rect x="306.50" y="127.10" width="16.10" height="11.51" fill="#fbe5e5"/>
<text x="314.75" y="135.16" font-size="8.2" fill="#1e1e1e" stroke="#1e1e1e" stroke-width="0.180" text-anchor="middle">128</text>
<text x="222.60" y="135.45" font-size="8.0" fill="#2f78b8" stroke="#2f78b8" stroke-width="0.180" text-anchor="end">Ar</text>
<rect x="226.00" y="138.61" width="16.10" height="11.51" fill="#f6c8ca"/>
<text x="234.25" y="146.67" font-size="8.2" fill="#1e1e1e" stroke="#1e1e1e" stroke-width="0.180" text-anchor="middle">33</text>
<rect x="274.30" y="138.61" width="16.10" height="11.51" fill="#f9d5d7"/>
<text x="282.55" y="146.67" font-size="8.2" fill="#1e1e1e" stroke="#1e1e1e" stroke-width="0.180" text-anchor="middle">50</text>
<rect x="306.50" y="138.61" width="16.10" height="11.51" fill="#fbe2e3"/>
<text x="314.75" y="146.67" font-size="8.2" fill="#1e1e1e" stroke="#1e1e1e" stroke-width="0.180" text-anchor="middle">129</text>
<text x="222.60" y="146.97" font-size="8.0" fill="#2f9a5c" stroke="#2f9a5c" stroke-width="0.180" text-anchor="end">Bu</text>
<rect x="274.30" y="150.12" width="16.10" height="11.51" fill="#f9d7d8"/>
<text x="282.55" y="158.18" font-size="8.2" fill="#1e1e1e" stroke="#1e1e1e" stroke-width="0.180" text-anchor="middle">38</text>
<rect x="290.40" y="150.12" width="16.10" height="11.51" fill="#fadfe0"/>
<text x="298.65" y="158.18" font-size="8.2" fill="#1e1e1e" stroke="#1e1e1e" stroke-width="0.180" text-anchor="middle">53</text>
<rect x="306.50" y="150.12" width="16.10" height="11.51" fill="#fadfe0"/>
<text x="314.75" y="158.18" font-size="8.2" fill="#1e1e1e" stroke="#1e1e1e" stroke-width="0.180" text-anchor="middle">126</text>
<text x="222.60" y="158.47" font-size="8.0" fill="#2f9a5c" stroke="#2f9a5c" stroke-width="0.180" text-anchor="end">Pv</text>
<rect x="242.10" y="161.63" width="16.10" height="11.51" fill="#f7ccce"/>
<text x="250.35" y="169.69" font-size="8.2" fill="#1e1e1e" stroke="#1e1e1e" stroke-width="0.180" text-anchor="middle">20</text>
<rect x="258.20" y="161.63" width="16.10" height="11.51" fill="#f7ccce"/>
<text x="266.45" y="169.69" font-size="8.2" fill="#1e1e1e" stroke="#1e1e1e" stroke-width="0.180" text-anchor="middle">21</text>
<rect x="451.40" y="161.63" width="16.10" height="11.51" fill="#f6c8ca"/>
<text x="459.65" y="169.69" font-size="8.2" fill="#1e1e1e" stroke="#1e1e1e" stroke-width="0.180" text-anchor="middle">32</text>
<text x="222.60" y="169.98" font-size="8.0" fill="#2f78b8" stroke="#2f78b8" stroke-width="0.180" text-anchor="end">Cd</text>
<rect x="226.00" y="173.14" width="16.10" height="11.51" fill="#f7ccce"/>
<text x="234.25" y="181.19" font-size="8.2" fill="#1e1e1e" stroke="#1e1e1e" stroke-width="0.180" text-anchor="middle">34</text>
<text x="222.60" y="181.49" font-size="8.0" fill="#2f78b8" stroke="#2f78b8" stroke-width="0.180" text-anchor="end">Ls</text>
<line x1="226.00" y1="12.00" x2="628.50" y2="12.00" stroke="rgba(255,255,255,0.0)" stroke-width="0.5"/>
<line x1="226.00" y1="23.51" x2="628.50" y2="23.51" stroke="rgba(255,255,255,0.0)" stroke-width="0.5"/>
<line x1="226.00" y1="35.02" x2="628.50" y2="35.02" stroke="rgba(255,255,255,0.0)" stroke-width="0.5"/>
<line x1="226.00" y1="46.53" x2="628.50" y2="46.53" stroke="rgba(255,255,255,0.0)" stroke-width="0.5"/>
<line x1="226.00" y1="58.04" x2="628.50" y2="58.04" stroke="rgba(255,255,255,0.0)" stroke-width="0.5"/>
<line x1="226.00" y1="69.55" x2="628.50" y2="69.55" stroke="rgba(255,255,255,0.0)" stroke-width="0.5"/>
<line x1="226.00" y1="81.06" x2="628.50" y2="81.06" stroke="rgba(255,255,255,0.0)" stroke-width="0.5"/>
<line x1="226.00" y1="92.57" x2="628.50" y2="92.57" stroke="rgba(255,255,255,0.0)" stroke-width="0.5"/>
<line x1="226.00" y1="104.08" x2="628.50" y2="104.08" stroke="rgba(255,255,255,0.0)" stroke-width="0.5"/>
<line x1="226.00" y1="115.59" x2="628.50" y2="115.59" stroke="rgba(255,255,255,0.0)" stroke-width="0.5"/>
<line x1="226.00" y1="127.10" x2="628.50" y2="127.10" stroke="rgba(255,255,255,0.0)" stroke-width="0.5"/>
<line x1="226.00" y1="138.61" x2="628.50" y2="138.61" stroke="rgba(255,255,255,0.0)" stroke-width="0.5"/>
<line x1="226.00" y1="150.12" x2="628.50" y2="150.12" stroke="rgba(255,255,255,0.0)" stroke-width="0.5"/>
<line x1="226.00" y1="161.63" x2="628.50" y2="161.63" stroke="rgba(255,255,255,0.0)" stroke-width="0.5"/>
<line x1="226.00" y1="173.14" x2="628.50" y2="173.14" stroke="rgba(255,255,255,0.0)" stroke-width="0.5"/>
<line x1="226.00" y1="184.65" x2="628.50" y2="184.65" stroke="rgba(255,255,255,0.0)" stroke-width="0.5"/>
<text x="0" y="0" font-size="8.8" fill="#333" stroke="#333" stroke-width="0.180" text-anchor="middle" textLength="61.30" lengthAdjust="spacingAndGlyphs" transform="translate(203.6,98.3) rotate(-90)">Partner species</text>
<text x="0" y="0" font-size="7.7" fill="#333" stroke="#333" stroke-width="0.180" text-anchor="end" textLength="12.40" lengthAdjust="spacingAndGlyphs" transform="translate(236.55,189.40) rotate(-90)">PTS</text>
<text x="0" y="0" font-size="7.7" fill="#333" stroke="#333" stroke-width="0.180" text-anchor="end" textLength="85.80" lengthAdjust="spacingAndGlyphs" transform="translate(252.65,189.40) rotate(-90)">Sphingolipid metabolism</text>
<text x="0" y="0" font-size="7.7" fill="#333" stroke="#333" stroke-width="0.180" text-anchor="end" textLength="88.30" lengthAdjust="spacingAndGlyphs" transform="translate(268.75,189.40) rotate(-90)">Other glycan degradation</text>
<text x="0" y="0" font-size="7.7" fill="#333" stroke="#333" stroke-width="0.180" text-anchor="end" textLength="57.60" lengthAdjust="spacingAndGlyphs" transform="translate(284.85,189.40) rotate(-90)">ABC transporters</text>
<text x="0" y="0" font-size="7.7" fill="#333" stroke="#333" stroke-width="0.180" text-anchor="end" textLength="107.10" lengthAdjust="spacingAndGlyphs" transform="translate(300.95,189.40) rotate(-90)">Starch and sucrose metabolism</text>
<text x="0" y="0" font-size="7.7" fill="#333" stroke="#333" stroke-width="0.180" text-anchor="end" textLength="33.80" lengthAdjust="spacingAndGlyphs" transform="translate(317.05,189.40) rotate(-90)">Ribosome</text>
<text x="0" y="0" font-size="7.7" fill="#333" stroke="#333" stroke-width="0.180" text-anchor="end" textLength="76.20" lengthAdjust="spacingAndGlyphs" transform="translate(333.15,189.40) rotate(-90)">Butanoate metabolism</text>
<text x="0" y="0" font-size="7.7" fill="#333" stroke="#333" stroke-width="0.180" text-anchor="end" textLength="87.90" lengthAdjust="spacingAndGlyphs" transform="translate(349.25,189.40) rotate(-90)">Degradation of flavonoids</text>
<text x="0" y="0" font-size="7.7" fill="#333" stroke="#333" stroke-width="0.180" text-anchor="end" textLength="76.20" lengthAdjust="spacingAndGlyphs" transform="translate(365.35,189.40) rotate(-90)">Galactose metabolism</text>
<text x="0" y="0" font-size="7.7" fill="#333" stroke="#333" stroke-width="0.180" text-anchor="end" textLength="61.60" lengthAdjust="spacingAndGlyphs" transform="translate(381.45,189.40) rotate(-90)">Biotin metabolism</text>
<text x="0" y="0" font-size="7.7" fill="#333" stroke="#333" stroke-width="0.180" text-anchor="end" textLength="74.80" lengthAdjust="spacingAndGlyphs" transform="translate(397.55,189.40) rotate(-90)">Fatty acid metabolism</text>
<text x="0" y="0" font-size="7.7" fill="#333" stroke="#333" stroke-width="0.180" text-anchor="end" textLength="56.00" lengthAdjust="spacingAndGlyphs" transform="translate(413.65,189.40) rotate(-90)">Quorum sensing</text>
<text x="0" y="0" font-size="7.7" fill="#333" stroke="#333" stroke-width="0.180" text-anchor="end" textLength="47.60" lengthAdjust="spacingAndGlyphs" transform="translate(429.75,189.40) rotate(-90)">Protein export</text>
<text x="0" y="0" font-size="7.7" fill="#333" stroke="#333" stroke-width="0.180" text-anchor="end" textLength="131.30" lengthAdjust="spacingAndGlyphs" transform="translate(445.85,189.40) rotate(-90)">Various types of N-glycan biosynthesis</text>
<text x="0" y="0" font-size="7.7" fill="#333" stroke="#333" stroke-width="0.180" text-anchor="end" textLength="72.60" lengthAdjust="spacingAndGlyphs" transform="translate(461.95,189.40) rotate(-90)">Thiamine metabolism</text>
<text x="0" y="0" font-size="7.7" fill="#333" stroke="#333" stroke-width="0.180" text-anchor="end" textLength="88.50" lengthAdjust="spacingAndGlyphs" transform="translate(478.05,189.40) rotate(-90)">Teichoic acid biosynthesis</text>
<text x="0" y="0" font-size="7.7" fill="#333" stroke="#333" stroke-width="0.180" text-anchor="end" textLength="79.00" lengthAdjust="spacingAndGlyphs" transform="translate(494.15,189.40) rotate(-90)">Lipoic acid metabolism</text>
<text x="0" y="0" font-size="7.7" fill="#333" stroke="#333" stroke-width="0.180" text-anchor="end" textLength="81.40" lengthAdjust="spacingAndGlyphs" transform="translate(510.25,189.40) rotate(-90)">Propanoate metabolism</text>
<text x="0" y="0" font-size="7.7" fill="#333" stroke="#333" stroke-width="0.180" text-anchor="end" textLength="72.60" lengthAdjust="spacingAndGlyphs" transform="translate(526.35,189.40) rotate(-90)">Arginine biosynthesis</text>
<text x="0" y="0" font-size="7.7" fill="#333" stroke="#333" stroke-width="0.180" text-anchor="end" textLength="95.60" lengthAdjust="spacingAndGlyphs" transform="translate(542.45,189.40) rotate(-90)">Glycolysis/gluconeogenesis</text>
<text x="0" y="0" font-size="7.7" fill="#333" stroke="#333" stroke-width="0.180" text-anchor="end" textLength="120.10" lengthAdjust="spacingAndGlyphs" transform="translate(558.55,189.40) rotate(-90)">Fructose and mannose metabolism</text>
<text x="0" y="0" font-size="7.7" fill="#333" stroke="#333" stroke-width="0.180" text-anchor="end" textLength="76.60" lengthAdjust="spacingAndGlyphs" transform="translate(574.65,189.40) rotate(-90)">Fatty acid biosynthesis</text>
<text x="0" y="0" font-size="7.7" fill="#333" stroke="#333" stroke-width="0.180" text-anchor="end" textLength="89.90" lengthAdjust="spacingAndGlyphs" transform="translate(590.75,189.40) rotate(-90)">Bacterial secretion system</text>
<text x="0" y="0" font-size="7.7" fill="#333" stroke="#333" stroke-width="0.180" text-anchor="end" textLength="70.90" lengthAdjust="spacingAndGlyphs" transform="translate(606.85,189.40) rotate(-90)">Bacterial chemotaxis</text>
<text x="0" y="0" font-size="7.7" fill="#333" stroke="#333" stroke-width="0.180" text-anchor="end" textLength="84.50" lengthAdjust="spacingAndGlyphs" transform="translate(622.95,189.40) rotate(-90)">beta-Alanine metabolism</text>
<defs><linearGradient id="cb" x1="0" y1="1" x2="0" y2="0"><stop offset="0" stop-color="#fdf0f0"/><stop offset="0.45" stop-color="#f0a3a6"/><stop offset="1" stop-color="#d62b2b"/></linearGradient></defs>
<rect x="635.00" y="42.00" width="6.00" height="109.60" fill="url(#cb)"/>
<line x1="641.20" y1="52.80" x2="644.00" y2="52.80" stroke="#555" stroke-width="0.7"/>
<text x="647.20" y="55.10" font-size="6.6" fill="#444" stroke="#444" stroke-width="0.126" textLength="11.00" lengthAdjust="spacingAndGlyphs">5.0</text>
<line x1="641.20" y1="66.00" x2="644.00" y2="66.00" stroke="#555" stroke-width="0.7"/>
<text x="647.20" y="68.30" font-size="6.6" fill="#444" stroke="#444" stroke-width="0.126" textLength="11.00" lengthAdjust="spacingAndGlyphs">4.5</text>
<line x1="641.20" y1="79.20" x2="644.00" y2="79.20" stroke="#555" stroke-width="0.7"/>
<text x="647.20" y="81.50" font-size="6.6" fill="#444" stroke="#444" stroke-width="0.126" textLength="11.00" lengthAdjust="spacingAndGlyphs">4.0</text>
<line x1="641.20" y1="92.40" x2="644.00" y2="92.40" stroke="#555" stroke-width="0.7"/>
<text x="647.20" y="94.70" font-size="6.6" fill="#444" stroke="#444" stroke-width="0.126" textLength="11.00" lengthAdjust="spacingAndGlyphs">3.5</text>
<line x1="641.20" y1="105.60" x2="644.00" y2="105.60" stroke="#555" stroke-width="0.7"/>
<text x="647.20" y="107.90" font-size="6.6" fill="#444" stroke="#444" stroke-width="0.126" textLength="11.00" lengthAdjust="spacingAndGlyphs">3.0</text>
<line x1="641.20" y1="118.80" x2="644.00" y2="118.80" stroke="#555" stroke-width="0.7"/>
<text x="647.20" y="121.10" font-size="6.6" fill="#444" stroke="#444" stroke-width="0.126" textLength="11.00" lengthAdjust="spacingAndGlyphs">2.5</text>
<line x1="641.20" y1="132.00" x2="644.00" y2="132.00" stroke="#555" stroke-width="0.7"/>
<text x="647.20" y="134.30" font-size="6.6" fill="#444" stroke="#444" stroke-width="0.126" textLength="11.00" lengthAdjust="spacingAndGlyphs">2.0</text>
<line x1="641.20" y1="145.20" x2="644.00" y2="145.20" stroke="#555" stroke-width="0.7"/>
<text x="647.20" y="147.50" font-size="6.6" fill="#444" stroke="#444" stroke-width="0.126" textLength="11.00" lengthAdjust="spacingAndGlyphs">1.5</text>
<text x="0" y="0" font-size="8.6" fill="#333" stroke="#333" stroke-width="0.180" text-anchor="middle" textLength="117.00" lengthAdjust="spacingAndGlyphs" transform="translate(663.8,97.1) rotate(90)">Enrichment of KEGG pathway</text>
<text x="8.40" y="366.70" font-size="12.8" fill="#000" font-weight="bold" stroke="#000" stroke-width="0.7">c</text>
<text x="37.60" y="389.00" font-size="9.0" fill="#1e1e1e" stroke="#1e1e1e" stroke-width="0.180" textLength="76.40" lengthAdjust="spacingAndGlyphs">Media dependence</text>
<text x="128.80" y="386.10" font-size="9.0" fill="#1e1e1e" stroke="#1e1e1e" stroke-width="0.180" textLength="67.50" lengthAdjust="spacingAndGlyphs">Starch utilization</text>
<text x="162.90" y="394.20" font-size="9.0" fill="#1e1e1e" stroke="#1e1e1e" stroke-width="0.180" text-anchor="middle" textLength="28.30" lengthAdjust="spacingAndGlyphs">mutant</text>
<text x="19.60" y="402.10" font-size="8.8" fill="#1e1e1e" stroke="#1e1e1e" stroke-width="0.180" textLength="25.40" lengthAdjust="spacingAndGlyphs">Starch</text>
<text x="61.10" y="405.30" font-size="7.6" fill="#555" stroke="#555" stroke-width="0.180" text-anchor="middle">+</text>
<text x="91.80" y="404.00" font-size="7.6" fill="#555" stroke="#555" stroke-width="0.180" text-anchor="middle">–</text>
<text x="148.90" y="405.30" font-size="7.6" fill="#555" stroke="#555" stroke-width="0.180" text-anchor="middle">+</text>
<text x="179.90" y="405.30" font-size="7.6" fill="#555" stroke="#555" stroke-width="0.180" text-anchor="middle">+</text>
<text x="46.30" y="415.90" font-size="8.8" fill="#1e1e1e" stroke="#1e1e1e" stroke-width="0.180" text-anchor="end" textLength="7.70" lengthAdjust="spacingAndGlyphs">Bt</text>
<text x="134.40" y="415.90" font-size="8.8" fill="#1e1e1e" stroke="#1e1e1e" stroke-width="0.180" text-anchor="end" textLength="7.90" lengthAdjust="spacingAndGlyphs">Bt</text>
<text x="47.20" y="444.70" font-size="8.8" fill="#1e1e1e" stroke="#1e1e1e" stroke-width="0.180" text-anchor="end" textLength="11.40" lengthAdjust="spacingAndGlyphs">Cd</text>
<text x="135.20" y="444.70" font-size="8.8" fill="#1e1e1e" stroke="#1e1e1e" stroke-width="0.180" text-anchor="end" textLength="11.10" lengthAdjust="spacingAndGlyphs">Cd</text>
<rect x="48.20" y="408.60" width="25.20" height="8.20" rx="4.10" ry="4.10" fill="#5ea862" stroke="#4a9050" stroke-width="0.6"/>
<rect x="48.20" y="437.10" width="25.20" height="8.00" rx="4.00" ry="4.00" fill="#5d9cc2" stroke="#4b86ab" stroke-width="0.6"/>
<rect x="79.60" y="408.60" width="25.20" height="8.20" rx="4.10" ry="4.10" fill="#5ea862" stroke="#4a9050" stroke-width="0.6"/>
<rect x="79.60" y="437.10" width="25.20" height="8.00" rx="4.00" ry="4.00" fill="#5d9cc2" stroke="#4b86ab" stroke-width="0.6"/>
<rect x="136.10" y="408.60" width="25.20" height="8.20" rx="4.10" ry="4.10" fill="#5ea862" stroke="#4a9050" stroke-width="0.6"/>
<rect x="136.10" y="437.10" width="25.20" height="8.00" rx="4.00" ry="4.00" fill="#5d9cc2" stroke="#4b86ab" stroke-width="0.6"/>
<rect x="167.50" y="408.60" width="25.20" height="8.20" rx="4.10" ry="4.10" fill="#5ea862" stroke="#4a9050" stroke-width="0.6"/>
<rect x="167.50" y="437.10" width="25.20" height="8.00" rx="4.00" ry="4.00" fill="#5d9cc2" stroke="#4b86ab" stroke-width="0.6"/>
<text x="180.10" y="415.20" font-size="7.8" fill="#15301a" stroke="#15301a" stroke-width="0.180" text-anchor="middle" textLength="21.50" lengthAdjust="spacingAndGlyphs">ΔsusG</text>
<line x1="60.80" y1="419.80" x2="60.80" y2="430.10" stroke="#111" stroke-width="0.8"/>
<path d="M59.10,429.60 L62.50,429.60 L60.80,432.80 Z" fill="#111"/>
<line x1="148.70" y1="419.80" x2="148.70" y2="430.10" stroke="#111" stroke-width="0.8"/>
<path d="M147.00,429.60 L150.40,429.60 L148.70,432.80 Z" fill="#111"/>
<line x1="92.00" y1="419.80" x2="92.00" y2="432.40" stroke="#333" stroke-width="0.8"/>
<line x1="89.60" y1="432.40" x2="94.50" y2="432.40" stroke="#333" stroke-width="0.9"/>
<line x1="180.30" y1="419.80" x2="180.30" y2="432.80" stroke="#333" stroke-width="0.9" stroke-dasharray="1.0,1.1"/>
<line x1="46.90" y1="458.20" x2="46.90" y2="629.40" stroke="#777" stroke-width="1.0"/>
<line x1="43.90" y1="595.80" x2="46.90" y2="595.80" stroke="#777" stroke-width="0.8"/>
<line x1="43.90" y1="562.20" x2="46.90" y2="562.20" stroke="#777" stroke-width="0.8"/>
<line x1="43.90" y1="528.60" x2="46.90" y2="528.60" stroke="#777" stroke-width="0.8"/>
<line x1="43.90" y1="495.00" x2="46.90" y2="495.00" stroke="#777" stroke-width="0.8"/>
<line x1="43.90" y1="461.40" x2="46.90" y2="461.40" stroke="#777" stroke-width="0.8"/>
<line x1="128.30" y1="458.20" x2="128.30" y2="629.40" stroke="#777" stroke-width="1.0"/>
<line x1="125.30" y1="595.80" x2="128.30" y2="595.80" stroke="#777" stroke-width="0.8"/>
<line x1="125.30" y1="562.20" x2="128.30" y2="562.20" stroke="#777" stroke-width="0.8"/>
<line x1="125.30" y1="528.60" x2="128.30" y2="528.60" stroke="#777" stroke-width="0.8"/>
<line x1="125.30" y1="495.00" x2="128.30" y2="495.00" stroke="#777" stroke-width="0.8"/>
<line x1="125.30" y1="461.40" x2="128.30" y2="461.40" stroke="#777" stroke-width="0.8"/>
<text x="40.30" y="631.90" font-size="7.4" fill="#333" stroke="#333" stroke-width="0.126" text-anchor="end" textLength="4.40" lengthAdjust="spacingAndGlyphs">0</text>
<text x="40.30" y="598.30" font-size="7.4" fill="#333" stroke="#333" stroke-width="0.126" text-anchor="end" textLength="9.70" lengthAdjust="spacingAndGlyphs">0.5</text>
<text x="40.30" y="564.70" font-size="7.4" fill="#333" stroke="#333" stroke-width="0.126" text-anchor="end" textLength="8.70" lengthAdjust="spacingAndGlyphs">1.0</text>
<text x="40.30" y="531.10" font-size="7.4" fill="#333" stroke="#333" stroke-width="0.126" text-anchor="end" textLength="8.70" lengthAdjust="spacingAndGlyphs">1.5</text>
<text x="40.30" y="497.50" font-size="7.4" fill="#333" stroke="#333" stroke-width="0.126" text-anchor="end" textLength="9.70" lengthAdjust="spacingAndGlyphs">2.0</text>
<text x="40.30" y="463.90" font-size="7.4" fill="#333" stroke="#333" stroke-width="0.126" text-anchor="end" textLength="9.70" lengthAdjust="spacingAndGlyphs">2.5</text>
<line x1="45.30" y1="629.40" x2="104.60" y2="629.40" stroke="#777" stroke-width="0.8"/>
<line x1="125.50" y1="629.40" x2="183.00" y2="629.40" stroke="#777" stroke-width="0.8"/>
<line x1="46.90" y1="629.40" x2="46.90" y2="629.40" stroke="#777" stroke-width="0.8"/>
<rect x="49.90" y="494.33" width="22.00" height="135.07" fill="#b0b0b0"/>
<rect x="77.00" y="589.08" width="22.10" height="40.32" fill="#b0b0b0"/>
<rect x="131.20" y="517.18" width="21.80" height="112.22" fill="#b0b0b0"/>
<rect x="158.70" y="558.84" width="21.90" height="70.56" fill="#b0b0b0"/>
<line x1="60.50" y1="629.40" x2="60.50" y2="632.60" stroke="#777" stroke-width="0.8"/>
<line x1="88.30" y1="629.40" x2="88.30" y2="632.60" stroke="#777" stroke-width="0.8"/>
<line x1="142.00" y1="629.40" x2="142.00" y2="632.60" stroke="#777" stroke-width="0.8"/>
<line x1="169.70" y1="629.40" x2="169.70" y2="632.60" stroke="#777" stroke-width="0.8"/>
<line x1="47.6" y1="562.20" x2="103.0" y2="562.20" stroke="#111" stroke-width="1.4" stroke-dasharray="1.4,2.0"/>
<line x1="129.0" y1="562.20" x2="183.0" y2="562.20" stroke="#111" stroke-width="1.4" stroke-dasharray="1.4,2.0"/>
<circle cx="60.50" cy="466.30" r="2.1" fill="#4f4f4f"/>
<circle cx="60.50" cy="484.70" r="2.1" fill="#4f4f4f"/>
<circle cx="60.50" cy="530.90" r="2.1" fill="#4f4f4f"/>
<circle cx="88.30" cy="583.00" r="2.1" fill="#4f4f4f"/>
<circle cx="86.90" cy="590.40" r="2.1" fill="#4f4f4f"/>
<circle cx="88.30" cy="593.70" r="2.1" fill="#4f4f4f"/>
<circle cx="142.00" cy="495.90" r="2.1" fill="#4f4f4f"/>
<circle cx="142.00" cy="518.80" r="2.1" fill="#4f4f4f"/>
<circle cx="142.00" cy="535.50" r="2.1" fill="#4f4f4f"/>
<circle cx="169.70" cy="554.90" r="2.1" fill="#4f4f4f"/>
<circle cx="165.50" cy="560.60" r="2.1" fill="#4f4f4f"/>
<circle cx="169.70" cy="562.60" r="2.1" fill="#4f4f4f"/>
<line x1="61.30" y1="459.80" x2="88.30" y2="459.80" stroke="#bdbdbd" stroke-width="1.4"/>
<line x1="141.90" y1="483.50" x2="169.70" y2="483.50" stroke="#555" stroke-width="0.8"/>
<text x="0" y="0" font-size="8.9" fill="#1e1e1e" stroke="#1e1e1e" stroke-width="0.180" text-anchor="middle" textLength="92.70" lengthAdjust="spacingAndGlyphs" transform="translate(13.2,544.2) rotate(-90)">Relative Cd abundance</text>
<text x="0" y="0" font-size="8.9" fill="#1e1e1e" stroke="#1e1e1e" stroke-width="0.180" text-anchor="middle" textLength="103.40" lengthAdjust="spacingAndGlyphs" transform="translate(22.2,544.3) rotate(-90)">(co- versus mono-culture)</text>
<text x="0" y="0" font-size="8.6" fill="#1e1e1e" stroke="#1e1e1e" stroke-width="0.180" text-anchor="end" textLength="27.60" lengthAdjust="spacingAndGlyphs" transform="translate(64.60,639.60) rotate(-45)">mGAM</text>
<text x="0" y="0" font-size="8.6" fill="#1e1e1e" stroke="#1e1e1e" stroke-width="0.180" text-anchor="end" textLength="13.80" lengthAdjust="spacingAndGlyphs" transform="translate(91.60,641.80) rotate(-45)">BHI</text>
<text x="0" y="0" font-size="8.6" fill="#1e1e1e" stroke="#1e1e1e" stroke-width="0.180" text-anchor="end" textLength="40.00" lengthAdjust="spacingAndGlyphs" transform="translate(146.60,640.60) rotate(-45)">Bt control</text>
<text x="0" y="0" font-size="8.6" fill="#1e1e1e" stroke="#1e1e1e" stroke-width="0.180" text-anchor="end" textLength="37.20" lengthAdjust="spacingAndGlyphs" transform="translate(175.60,640.60) rotate(-45)">Bt ΔsusG</text>
<text x="227.00" y="370.60" font-size="12.8" fill="#000" font-weight="bold" stroke="#000" stroke-width="0.7">d</text>
<path d="M72.60,452.10 L73.13,453.47 L74.60,453.55 L73.46,454.48 L73.83,455.90 L72.60,455.10 L71.37,455.90 L71.74,454.48 L70.60,453.55 L72.07,453.47 Z" fill="#2a2a2a"/>
<path d="M77.20,452.10 L77.73,453.47 L79.20,453.55 L78.06,454.48 L78.43,455.90 L77.20,455.10 L75.97,455.90 L76.34,454.48 L75.20,453.55 L76.67,453.47 Z" fill="#2a2a2a"/>
<path d="M156.30,475.90 L156.83,477.27 L158.30,477.35 L157.16,478.28 L157.53,479.70 L156.30,478.90 L155.07,479.70 L155.44,478.28 L154.30,477.35 L155.77,477.27 Z" fill="#2a2a2a"/>
<rect x="310.95" y="382.00" width="12.61" height="11.94" fill="#fbf1f0"/>
<rect x="323.16" y="382.00" width="12.61" height="11.94" fill="#e1e1f1"/>
<rect x="335.37" y="382.00" width="12.61" height="11.94" fill="#6c72bf"/>
<rect x="347.58" y="382.00" width="12.61" height="11.94" fill="#4f5ab3"/>
<rect x="359.79" y="382.00" width="12.61" height="11.94" fill="#525db4"/>
<rect x="372.00" y="382.00" width="12.61" height="11.94" fill="#e2e2f2"/>
<rect x="384.21" y="382.00" width="12.61" height="11.94" fill="#c9cae7"/>
<rect x="396.42" y="382.00" width="12.61" height="11.94" fill="#dcdcef"/>
<rect x="408.63" y="382.00" width="12.61" height="11.94" fill="#f7f7fa"/>
<rect x="420.84" y="382.00" width="12.61" height="11.94" fill="#f9d4d4"/>
<rect x="433.05" y="382.00" width="12.61" height="11.94" fill="#e0e0f0"/>
<rect x="445.26" y="382.00" width="12.61" height="11.94" fill="#d2d3ea"/>
<rect x="457.47" y="382.00" width="12.21" height="11.94" fill="#c6c7e5"/>
<rect x="310.95" y="393.54" width="12.61" height="11.94" fill="#c6c7e6"/>
<rect x="323.16" y="393.54" width="12.61" height="11.94" fill="#9a9dd2"/>
<rect x="335.37" y="393.54" width="12.61" height="11.94" fill="#b5b7de"/>
<rect x="347.58" y="393.54" width="12.61" height="11.94" fill="#4a56b2"/>
<rect x="359.79" y="393.54" width="12.61" height="11.94" fill="#4653b0"/>
<rect x="372.00" y="393.54" width="12.61" height="11.94" fill="#b8bade"/>
<rect x="384.21" y="393.54" width="12.61" height="11.94" fill="#c6c7e6"/>
<rect x="396.42" y="393.54" width="12.61" height="11.94" fill="#aeb1da"/>
<rect x="408.63" y="393.54" width="12.61" height="11.94" fill="#fbfbfd"/>
<rect x="420.84" y="393.54" width="12.61" height="11.94" fill="#f9f9fb"/>
<rect x="433.05" y="393.54" width="12.61" height="11.94" fill="#f9f9fb"/>
<rect x="445.26" y="393.54" width="12.61" height="11.94" fill="#c3c4e4"/>
<rect x="457.47" y="393.54" width="12.21" height="11.94" fill="#babce0"/>
<rect x="310.95" y="405.08" width="12.61" height="11.94" fill="#f7cfd2"/>
<rect x="323.16" y="405.08" width="12.61" height="11.94" fill="#eeeef8"/>
<rect x="335.37" y="405.08" width="12.61" height="11.94" fill="#dcdcef"/>
<rect x="347.58" y="405.08" width="12.61" height="11.94" fill="#ececf6"/>
<rect x="359.79" y="405.08" width="12.61" height="11.94" fill="#d6d7ec"/>
<rect x="372.00" y="405.08" width="12.61" height="11.94" fill="#e4e4f2"/>
<rect x="384.21" y="405.08" width="12.61" height="11.94" fill="#e4e4f2"/>
<rect x="396.42" y="405.08" width="12.61" height="11.94" fill="#dcdcef"/>
<rect x="408.63" y="405.08" width="12.61" height="11.94" fill="#e4e4f2"/>
<rect x="420.84" y="405.08" width="12.61" height="11.94" fill="#fbe9e9"/>
<rect x="433.05" y="405.08" width="12.61" height="11.94" fill="#f4f4f8"/>
<rect x="445.26" y="405.08" width="12.61" height="11.94" fill="#dedff0"/>
<rect x="457.47" y="405.08" width="12.21" height="11.94" fill="#d6d7ec"/>
<rect x="310.95" y="416.62" width="12.61" height="11.94" fill="#dadbef"/>
<rect x="323.16" y="416.62" width="12.61" height="11.94" fill="#8b8fcb"/>
<rect x="335.37" y="416.62" width="12.61" height="11.94" fill="#e0e0f0"/>
<rect x="347.58" y="416.62" width="12.61" height="11.94" fill="#b0b2da"/>
<rect x="359.79" y="416.62" width="12.61" height="11.94" fill="#9699cf"/>
<rect x="372.00" y="416.62" width="12.61" height="11.94" fill="#d0d1ea"/>
<rect x="384.21" y="416.62" width="12.61" height="11.94" fill="#d6d7ec"/>
<rect x="396.42" y="416.62" width="12.61" height="11.94" fill="#d6d7ec"/>
<rect x="408.63" y="416.62" width="12.61" height="11.94" fill="#dadbef"/>
<rect x="420.84" y="416.62" width="12.61" height="11.94" fill="#a8aad7"/>
<rect x="433.05" y="416.62" width="12.61" height="11.94" fill="#ececf6"/>
<rect x="445.26" y="416.62" width="12.61" height="11.94" fill="#d0d1ea"/>
<rect x="457.47" y="416.62" width="12.21" height="11.94" fill="#cbcce8"/>
<rect x="310.95" y="428.16" width="12.61" height="11.54" fill="#dadbef"/>
<rect x="323.16" y="428.16" width="12.61" height="11.54" fill="#777cc3"/>
<rect x="335.37" y="428.16" width="12.61" height="11.54" fill="#9598ce"/>
<rect x="347.58" y="428.16" width="12.61" height="11.54" fill="#7e82c5"/>
<rect x="359.79" y="428.16" width="12.61" height="11.54" fill="#6a70bd"/>
<rect x="372.00" y="428.16" width="12.61" height="11.54" fill="#d0d1ea"/>
<rect x="384.21" y="428.16" width="12.61" height="11.54" fill="#e6e6f3"/>
<rect x="396.42" y="428.16" width="12.61" height="11.54" fill="#e6e6f3"/>
<rect x="408.63" y="428.16" width="12.61" height="11.54" fill="#f6f6f9"/>
<rect x="420.84" y="428.16" width="12.61" height="11.54" fill="#d0d1ea"/>
<rect x="433.05" y="428.16" width="12.61" height="11.54" fill="#ededf6"/>
<rect x="445.26" y="428.16" width="12.61" height="11.54" fill="#d0d1ea"/>
<rect x="457.47" y="428.16" width="12.21" height="11.54" fill="#cbcce8"/>
<path d="M341.48,384.62 L342.05,386.18 L343.71,386.24 L342.41,387.27 L342.86,388.87 L341.48,387.95 L340.09,388.87 L340.54,387.27 L339.24,386.24 L340.90,386.18 Z" fill="#ffffff"/>
<path d="M353.69,384.62 L354.26,386.18 L355.92,386.24 L354.62,387.27 L355.07,388.87 L353.69,387.95 L352.30,388.87 L352.75,387.27 L351.45,386.24 L353.11,386.18 Z" fill="#ffffff"/>
<path d="M365.89,384.62 L366.47,386.18 L368.13,386.24 L366.83,387.27 L367.28,388.87 L365.89,387.95 L364.51,388.87 L364.96,387.27 L363.66,386.24 L365.32,386.18 Z" fill="#ffffff"/>
<path d="M329.26,396.16 L329.84,397.72 L331.50,397.78 L330.20,398.81 L330.65,400.41 L329.26,399.49 L327.88,400.41 L328.33,398.81 L327.03,397.78 L328.69,397.72 Z" fill="#ffffff"/>
<path d="M341.48,396.16 L342.05,397.72 L343.71,397.78 L342.41,398.81 L342.86,400.41 L341.48,399.49 L340.09,400.41 L340.54,398.81 L339.24,397.78 L340.90,397.72 Z" fill="#111111"/>
<path d="M353.69,396.16 L354.26,397.72 L355.92,397.78 L354.62,398.81 L355.07,400.41 L353.69,399.49 L352.30,400.41 L352.75,398.81 L351.45,397.78 L353.11,397.72 Z" fill="#ffffff"/>
<path d="M365.89,396.16 L366.47,397.72 L368.13,397.78 L366.83,398.81 L367.28,400.41 L365.89,399.49 L364.51,400.41 L364.96,398.81 L363.66,397.78 L365.32,397.72 Z" fill="#ffffff"/>
<path d="M378.11,396.16 L378.68,397.72 L380.34,397.78 L379.04,398.81 L379.49,400.41 L378.11,399.49 L376.72,400.41 L377.17,398.81 L375.87,397.78 L377.53,397.72 Z" fill="#111111"/>
<path d="M390.31,396.16 L390.89,397.72 L392.55,397.78 L391.25,398.81 L391.70,400.41 L390.31,399.49 L388.93,400.41 L389.38,398.81 L388.08,397.78 L389.74,397.72 Z" fill="#111111"/>
<path d="M402.52,396.16 L403.10,397.72 L404.76,397.78 L403.46,398.81 L403.91,400.41 L402.52,399.49 L401.14,400.41 L401.59,398.81 L400.29,397.78 L401.95,397.72 Z" fill="#111111"/>
<path d="M329.26,419.24 L329.84,420.80 L331.50,420.86 L330.20,421.89 L330.65,423.49 L329.26,422.57 L327.88,423.49 L328.33,421.89 L327.03,420.86 L328.69,420.80 Z" fill="#ffffff"/>
<path d="M353.69,419.24 L354.26,420.80 L355.92,420.86 L354.62,421.89 L355.07,423.49 L353.69,422.57 L352.30,423.49 L352.75,421.89 L351.45,420.86 L353.11,420.80 Z" fill="#111111"/>
<path d="M365.89,419.24 L366.47,420.80 L368.13,420.86 L366.83,421.89 L367.28,423.49 L365.89,422.57 L364.51,423.49 L364.96,421.89 L363.66,420.86 L365.32,420.80 Z" fill="#ffffff"/>
<path d="M426.95,419.24 L427.52,420.80 L429.18,420.86 L427.88,421.89 L428.33,423.49 L426.95,422.57 L425.56,423.49 L426.01,421.89 L424.71,420.86 L426.37,420.80 Z" fill="#111111"/>
<path d="M329.26,430.78 L329.84,432.34 L331.50,432.40 L330.20,433.43 L330.65,435.03 L329.26,434.11 L327.88,435.03 L328.33,433.43 L327.03,432.40 L328.69,432.34 Z" fill="#ffffff"/>
<path d="M341.48,430.78 L342.05,432.34 L343.71,432.40 L342.41,433.43 L342.86,435.03 L341.48,434.11 L340.09,435.03 L340.54,433.43 L339.24,432.40 L340.90,432.34 Z" fill="#ffffff"/>
<path d="M353.69,430.78 L354.26,432.34 L355.92,432.40 L354.62,433.43 L355.07,435.03 L353.69,434.11 L352.30,435.03 L352.75,433.43 L351.45,432.40 L353.11,432.34 Z" fill="#ffffff"/>
<path d="M365.89,430.78 L366.47,432.34 L368.13,432.40 L366.83,433.43 L367.28,435.03 L365.89,434.11 L364.51,435.03 L364.96,433.43 L363.66,432.40 L365.32,432.34 Z" fill="#ffffff"/>
<line x1="469.68" y1="387.77" x2="472.88" y2="387.77" stroke="#444" stroke-width="0.7"/>
<line x1="469.68" y1="399.31" x2="472.88" y2="399.31" stroke="#444" stroke-width="0.7"/>
<line x1="469.68" y1="410.85" x2="472.88" y2="410.85" stroke="#444" stroke-width="0.7"/>
<line x1="469.68" y1="422.39" x2="472.88" y2="422.39" stroke="#444" stroke-width="0.7"/>
<line x1="469.68" y1="433.93" x2="472.88" y2="433.93" stroke="#444" stroke-width="0.7"/>
<rect x="311.85" y="456.35" width="12.60" height="17.59" fill="#6a6fbc"/>
<rect x="324.05" y="456.35" width="12.60" height="17.59" fill="#3b4ca8"/>
<rect x="336.25" y="456.35" width="12.60" height="17.59" fill="#3f4faa"/>
<rect x="348.45" y="456.35" width="12.60" height="17.59" fill="#a9a9a9"/>
<rect x="360.65" y="456.35" width="12.60" height="17.59" fill="#3b4ca8"/>
<rect x="372.85" y="456.35" width="12.60" height="17.59" fill="#acaed9"/>
<rect x="385.05" y="456.35" width="12.60" height="17.59" fill="#3b4ca8"/>
<rect x="397.25" y="456.35" width="12.60" height="17.59" fill="#4451ad"/>
<rect x="409.45" y="456.35" width="12.60" height="17.59" fill="#f7c6c9"/>
<rect x="421.65" y="456.35" width="12.60" height="17.59" fill="#f4b0b4"/>
<rect x="433.85" y="456.35" width="12.60" height="17.59" fill="#d2d3eb"/>
<rect x="446.05" y="456.35" width="12.60" height="17.59" fill="#a9abd7"/>
<rect x="458.25" y="456.35" width="12.20" height="17.59" fill="#3b4ca8"/>
<rect x="311.85" y="473.54" width="12.60" height="17.59" fill="#dfdff0"/>
<rect x="324.05" y="473.54" width="12.60" height="17.59" fill="#656bba"/>
<rect x="336.25" y="473.54" width="12.60" height="17.59" fill="#3f4faa"/>
<rect x="348.45" y="473.54" width="12.60" height="17.59" fill="#a9a9a9"/>
<rect x="360.65" y="473.54" width="12.60" height="17.59" fill="#3b4ca8"/>
<rect x="372.85" y="473.54" width="12.60" height="17.59" fill="#8589c8"/>
<rect x="385.05" y="473.54" width="12.60" height="17.59" fill="#3b4ca8"/>
<rect x="397.25" y="473.54" width="12.60" height="17.59" fill="#4451ad"/>
<rect x="409.45" y="473.54" width="12.60" height="17.59" fill="#fdfdfd"/>
<rect x="421.65" y="473.54" width="12.60" height="17.59" fill="#f8c8cb"/>
<rect x="433.85" y="473.54" width="12.60" height="17.59" fill="#e5e5f3"/>
<rect x="446.05" y="473.54" width="12.60" height="17.59" fill="#c2c3e3"/>
<rect x="458.25" y="473.54" width="12.20" height="17.59" fill="#3b4ca8"/>
<rect x="311.85" y="490.73" width="12.60" height="17.59" fill="#adafd9"/>
<rect x="324.05" y="490.73" width="12.60" height="17.59" fill="#8589c8"/>
<rect x="336.25" y="490.73" width="12.60" height="17.59" fill="#5158b2"/>
<rect x="348.45" y="490.73" width="12.60" height="17.59" fill="#3b4ca8"/>
<rect x="360.65" y="490.73" width="12.60" height="17.59" fill="#3b4ca8"/>
<rect x="372.85" y="490.73" width="12.60" height="17.59" fill="#8589c8"/>
<rect x="385.05" y="490.73" width="12.60" height="17.59" fill="#9a9dd2"/>
<rect x="397.25" y="490.73" width="12.60" height="17.59" fill="#a9abd7"/>
<rect x="409.45" y="490.73" width="12.60" height="17.59" fill="#d8d9ed"/>
<rect x="421.65" y="490.73" width="12.60" height="17.59" fill="#efeff7"/>
<rect x="433.85" y="490.73" width="12.60" height="17.59" fill="#ffffff"/>
<rect x="446.05" y="490.73" width="12.60" height="17.59" fill="#e5e5f3"/>
<rect x="458.25" y="490.73" width="12.20" height="17.59" fill="#3b4ca8"/>
<rect x="311.85" y="507.92" width="12.60" height="17.19" fill="#fcf6f6"/>
<rect x="324.05" y="507.92" width="12.60" height="17.19" fill="#ebebf5"/>
<rect x="336.25" y="507.92" width="12.60" height="17.19" fill="#3b4ca8"/>
<rect x="348.45" y="507.92" width="12.60" height="17.19" fill="#3b4ca8"/>
<rect x="360.65" y="507.92" width="12.60" height="17.19" fill="#3b4ca8"/>
<rect x="372.85" y="507.92" width="12.60" height="17.19" fill="#fbe2e2"/>
<rect x="385.05" y="507.92" width="12.60" height="17.19" fill="#b8bade"/>
<rect x="397.25" y="507.92" width="12.60" height="17.19" fill="#a9abd7"/>
<rect x="409.45" y="507.92" width="12.60" height="17.19" fill="#fdeeee"/>
<rect x="421.65" y="507.92" width="12.60" height="17.19" fill="#ef9196"/>
<rect x="433.85" y="507.92" width="12.60" height="17.19" fill="#d2d3eb"/>
<rect x="446.05" y="507.92" width="12.60" height="17.19" fill="#d8d9ed"/>
<rect x="458.25" y="507.92" width="12.20" height="17.19" fill="#3b4ca8"/>
<path d="M317.95,460.70 L318.53,462.25 L320.18,462.32 L318.88,463.35 L319.33,464.95 L317.95,464.03 L316.57,464.95 L317.02,463.35 L315.72,462.32 L317.37,462.25 Z" fill="#ffffff"/>
<path d="M330.15,460.70 L330.73,462.25 L332.38,462.32 L331.08,463.35 L331.53,464.95 L330.15,464.03 L328.77,464.95 L329.22,463.35 L327.92,462.32 L329.57,462.25 Z" fill="#ffffff"/>
<path d="M342.35,460.70 L342.93,462.25 L344.58,462.32 L343.28,463.35 L343.73,464.95 L342.35,464.03 L340.97,464.95 L341.42,463.35 L340.12,462.32 L341.77,462.25 Z" fill="#ffffff"/>
<path d="M378.95,460.70 L379.53,462.25 L381.18,462.32 L379.88,463.35 L380.33,464.95 L378.95,464.03 L377.57,464.95 L378.02,463.35 L376.72,462.32 L378.37,462.25 Z" fill="#111111"/>
<path d="M391.15,460.70 L391.73,462.25 L393.38,462.32 L392.08,463.35 L392.53,464.95 L391.15,464.03 L389.77,464.95 L390.22,463.35 L388.92,462.32 L390.57,462.25 Z" fill="#ffffff"/>
<path d="M403.35,460.70 L403.93,462.25 L405.58,462.32 L404.28,463.35 L404.73,464.95 L403.35,464.03 L401.97,464.95 L402.42,463.35 L401.12,462.32 L402.77,462.25 Z" fill="#ffffff"/>
<path d="M427.75,460.70 L428.33,462.25 L429.98,462.32 L428.68,463.35 L429.13,464.95 L427.75,464.03 L426.37,464.95 L426.82,463.35 L425.52,462.32 L427.17,462.25 Z" fill="#111111"/>
<path d="M452.15,460.70 L452.73,462.25 L454.38,462.32 L453.08,463.35 L453.53,464.95 L452.15,464.03 L450.77,464.95 L451.22,463.35 L449.92,462.32 L451.57,462.25 Z" fill="#111111"/>
<path d="M464.35,460.70 L464.93,462.25 L466.58,462.32 L465.28,463.35 L465.73,464.95 L464.35,464.03 L462.97,464.95 L463.42,463.35 L462.12,462.32 L463.77,462.25 Z" fill="#ffffff"/>
<path d="M330.15,477.89 L330.73,479.44 L332.38,479.51 L331.08,480.54 L331.53,482.14 L330.15,481.22 L328.77,482.14 L329.22,480.54 L327.92,479.51 L329.57,479.44 Z" fill="#ffffff"/>
<path d="M342.35,477.89 L342.93,479.44 L344.58,479.51 L343.28,480.54 L343.73,482.14 L342.35,481.22 L340.97,482.14 L341.42,480.54 L340.12,479.51 L341.77,479.44 Z" fill="#ffffff"/>
<path d="M378.95,477.89 L379.53,479.44 L381.18,479.51 L379.88,480.54 L380.33,482.14 L378.95,481.22 L377.57,482.14 L378.02,480.54 L376.72,479.51 L378.37,479.44 Z" fill="#ffffff"/>
<path d="M403.35,477.89 L403.93,479.44 L405.58,479.51 L404.28,480.54 L404.73,482.14 L403.35,481.22 L401.97,482.14 L402.42,480.54 L401.12,479.51 L402.77,479.44 Z" fill="#ffffff"/>
<path d="M464.35,477.89 L464.93,479.44 L466.58,479.51 L465.28,480.54 L465.73,482.14 L464.35,481.22 L462.97,482.14 L463.42,480.54 L462.12,479.51 L463.77,479.44 Z" fill="#ffffff"/>
<path d="M317.95,495.08 L318.53,496.63 L320.18,496.70 L318.88,497.73 L319.33,499.33 L317.95,498.41 L316.57,499.33 L317.02,497.73 L315.72,496.70 L317.37,496.63 Z" fill="#111111"/>
<path d="M330.15,495.08 L330.73,496.63 L332.38,496.70 L331.08,497.73 L331.53,499.33 L330.15,498.41 L328.77,499.33 L329.22,497.73 L327.92,496.70 L329.57,496.63 Z" fill="#ffffff"/>
<path d="M342.35,495.08 L342.93,496.63 L344.58,496.70 L343.28,497.73 L343.73,499.33 L342.35,498.41 L340.97,499.33 L341.42,497.73 L340.12,496.70 L341.77,496.63 Z" fill="#ffffff"/>
<path d="M354.55,495.08 L355.13,496.63 L356.78,496.70 L355.48,497.73 L355.93,499.33 L354.55,498.41 L353.17,499.33 L353.62,497.73 L352.32,496.70 L353.97,496.63 Z" fill="#ffffff"/>
<path d="M378.95,495.08 L379.53,496.63 L381.18,496.70 L379.88,497.73 L380.33,499.33 L378.95,498.41 L377.57,499.33 L378.02,497.73 L376.72,496.70 L378.37,496.63 Z" fill="#ffffff"/>
<path d="M391.15,495.08 L391.73,496.63 L393.38,496.70 L392.08,497.73 L392.53,499.33 L391.15,498.41 L389.77,499.33 L390.22,497.73 L388.92,496.70 L390.57,496.63 Z" fill="#ffffff"/>
<path d="M403.35,495.08 L403.93,496.63 L405.58,496.70 L404.28,497.73 L404.73,499.33 L403.35,498.41 L401.97,499.33 L402.42,497.73 L401.12,496.70 L402.77,496.63 Z" fill="#111111"/>
<path d="M464.35,495.08 L464.93,496.63 L466.58,496.70 L465.28,497.73 L465.73,499.33 L464.35,498.41 L462.97,499.33 L463.42,497.73 L462.12,496.70 L463.77,496.63 Z" fill="#ffffff"/>
<path d="M342.35,512.26 L342.93,513.82 L344.58,513.89 L343.28,514.92 L343.73,516.52 L342.35,515.60 L340.97,516.52 L341.42,514.92 L340.12,513.89 L341.77,513.82 Z" fill="#ffffff"/>
<path d="M354.55,512.26 L355.13,513.82 L356.78,513.89 L355.48,514.92 L355.93,516.52 L354.55,515.60 L353.17,516.52 L353.62,514.92 L352.32,513.89 L353.97,513.82 Z" fill="#ffffff"/>
<path d="M366.75,512.26 L367.33,513.82 L368.98,513.89 L367.68,514.92 L368.13,516.52 L366.75,515.60 L365.37,516.52 L365.82,514.92 L364.52,513.89 L366.17,513.82 Z" fill="#ffffff"/>
<path d="M391.15,512.26 L391.73,513.82 L393.38,513.89 L392.08,514.92 L392.53,516.52 L391.15,515.60 L389.77,516.52 L390.22,514.92 L388.92,513.89 L390.57,513.82 Z" fill="#111111"/>
<path d="M403.35,512.26 L403.93,513.82 L405.58,513.89 L404.28,514.92 L404.73,516.52 L403.35,515.60 L401.97,516.52 L402.42,514.92 L401.12,513.89 L402.77,513.82 Z" fill="#111111"/>
<path d="M427.75,512.26 L428.33,513.82 L429.98,513.89 L428.68,514.92 L429.13,516.52 L427.75,515.60 L426.37,516.52 L426.82,514.92 L425.52,513.89 L427.17,513.82 Z" fill="#111111"/>
<path d="M464.35,512.26 L464.93,513.82 L466.58,513.89 L465.28,514.92 L465.73,516.52 L464.35,515.60 L462.97,516.52 L463.42,514.92 L462.12,513.89 L463.77,513.82 Z" fill="#ffffff"/>
<line x1="470.45" y1="464.95" x2="473.65" y2="464.95" stroke="#444" stroke-width="0.7"/>
<line x1="470.45" y1="482.14" x2="473.65" y2="482.14" stroke="#444" stroke-width="0.7"/>
<line x1="470.45" y1="499.33" x2="473.65" y2="499.33" stroke="#444" stroke-width="0.7"/>
<line x1="470.45" y1="516.51" x2="473.65" y2="516.51" stroke="#444" stroke-width="0.7"/>
<rect x="310.95" y="540.50" width="12.71" height="17.95" fill="#b0b2da"/>
<rect x="323.26" y="540.50" width="12.71" height="17.95" fill="#b0b2da"/>
<rect x="335.57" y="540.50" width="12.71" height="17.95" fill="#e8e8f4"/>
<rect x="347.88" y="540.50" width="12.71" height="17.95" fill="#3b4ca8"/>
<rect x="360.19" y="540.50" width="12.71" height="17.95" fill="#3b4ca8"/>
<rect x="372.50" y="540.50" width="12.71" height="17.95" fill="#8589c8"/>
<rect x="384.81" y="540.50" width="12.71" height="17.95" fill="#6a6fbc"/>
<rect x="397.12" y="540.50" width="12.71" height="17.95" fill="#9a9dd2"/>
<rect x="409.43" y="540.50" width="12.71" height="17.95" fill="#d2d3eb"/>
<rect x="421.74" y="540.50" width="12.71" height="17.95" fill="#fdf6f6"/>
<rect x="434.05" y="540.50" width="12.71" height="17.95" fill="#fbeaea"/>
<rect x="446.36" y="540.50" width="12.71" height="17.95" fill="#e5e5f3"/>
<rect x="458.67" y="540.50" width="12.31" height="17.95" fill="#fbe6e6"/>
<rect x="310.95" y="558.05" width="12.71" height="17.95" fill="#f3b0b3"/>
<rect x="323.26" y="558.05" width="12.71" height="17.95" fill="#e86268"/>
<rect x="335.57" y="558.05" width="12.71" height="17.95" fill="#e86268"/>
<rect x="347.88" y="558.05" width="12.71" height="17.95" fill="#ea7076"/>
<rect x="360.19" y="558.05" width="12.71" height="17.95" fill="#e44c52"/>
<rect x="372.50" y="558.05" width="12.71" height="17.95" fill="#e8585e"/>
<rect x="384.81" y="558.05" width="12.71" height="17.95" fill="#f09298"/>
<rect x="397.12" y="558.05" width="12.71" height="17.95" fill="#ea7076"/>
<rect x="409.43" y="558.05" width="12.71" height="17.95" fill="#c8c9e6"/>
<rect x="421.74" y="558.05" width="12.71" height="17.95" fill="#fbe2e2"/>
<rect x="434.05" y="558.05" width="12.71" height="17.95" fill="#fcefef"/>
<rect x="446.36" y="558.05" width="12.71" height="17.95" fill="#f3a9ad"/>
<rect x="458.67" y="558.05" width="12.31" height="17.95" fill="#f3a9ad"/>
<rect x="310.95" y="575.60" width="12.71" height="17.95" fill="#f09a9e"/>
<rect x="323.26" y="575.60" width="12.71" height="17.95" fill="#e75d63"/>
<rect x="335.57" y="575.60" width="12.71" height="17.95" fill="#ee8287"/>
<rect x="347.88" y="575.60" width="12.71" height="17.95" fill="#e96b70"/>
<rect x="360.19" y="575.60" width="12.71" height="17.95" fill="#e96b70"/>
<rect x="372.50" y="575.60" width="12.71" height="17.95" fill="#e44c52"/>
<rect x="384.81" y="575.60" width="12.71" height="17.95" fill="#ec797e"/>
<rect x="397.12" y="575.60" width="12.71" height="17.95" fill="#e9656a"/>
<rect x="409.43" y="575.60" width="12.71" height="17.95" fill="#ededf6"/>
<rect x="421.74" y="575.60" width="12.71" height="17.95" fill="#fce8e8"/>
<rect x="434.05" y="575.60" width="12.71" height="17.95" fill="#f8c6c9"/>
<rect x="446.36" y="575.60" width="12.71" height="17.95" fill="#f3a9ad"/>
<rect x="458.67" y="575.60" width="12.31" height="17.95" fill="#f5b5b8"/>
<rect x="310.95" y="593.15" width="12.71" height="17.95" fill="#f3a9ad"/>
<rect x="323.26" y="593.15" width="12.71" height="17.95" fill="#e44a50"/>
<rect x="335.57" y="593.15" width="12.71" height="17.95" fill="#e44a50"/>
<rect x="347.88" y="593.15" width="12.71" height="17.95" fill="#e44c52"/>
<rect x="360.19" y="593.15" width="12.71" height="17.95" fill="#e44c52"/>
<rect x="372.50" y="593.15" width="12.71" height="17.95" fill="#df3a40"/>
<rect x="384.81" y="593.15" width="12.71" height="17.95" fill="#e9656a"/>
<rect x="397.12" y="593.15" width="12.71" height="17.95" fill="#e44c52"/>
<rect x="409.43" y="593.15" width="12.71" height="17.95" fill="#e5e5f3"/>
<rect x="421.74" y="593.15" width="12.71" height="17.95" fill="#f8cacc"/>
<rect x="434.05" y="593.15" width="12.71" height="17.95" fill="#f0979b"/>
<rect x="446.36" y="593.15" width="12.71" height="17.95" fill="#f09a9e"/>
<rect x="458.67" y="593.15" width="12.31" height="17.95" fill="#f3a9ad"/>
<rect x="310.95" y="610.70" width="12.71" height="17.95" fill="#ee8287"/>
<rect x="323.26" y="610.70" width="12.71" height="17.95" fill="#e75d63"/>
<rect x="335.57" y="610.70" width="12.71" height="17.95" fill="#e0363c"/>
<rect x="347.88" y="610.70" width="12.71" height="17.95" fill="#e44c52"/>
<rect x="360.19" y="610.70" width="12.71" height="17.95" fill="#e9656a"/>
<rect x="372.50" y="610.70" width="12.71" height="17.95" fill="#dc2f35"/>
<rect x="384.81" y="610.70" width="12.71" height="17.95" fill="#e75d63"/>
<rect x="397.12" y="610.70" width="12.71" height="17.95" fill="#e0363c"/>
<rect x="409.43" y="610.70" width="12.71" height="17.95" fill="#cfd0ea"/>
<rect x="421.74" y="610.70" width="12.71" height="17.95" fill="#e5e5f3"/>
<rect x="434.05" y="610.70" width="12.71" height="17.95" fill="#f09a9e"/>
<rect x="446.36" y="610.70" width="12.71" height="17.95" fill="#ee8287"/>
<rect x="458.67" y="610.70" width="12.31" height="17.95" fill="#f3a9ad"/>
<rect x="310.95" y="628.25" width="12.71" height="17.55" fill="#f09a9e"/>
<rect x="323.26" y="628.25" width="12.71" height="17.55" fill="#e75d63"/>
<rect x="335.57" y="628.25" width="12.71" height="17.55" fill="#e44a50"/>
<rect x="347.88" y="628.25" width="12.71" height="17.55" fill="#df3a40"/>
<rect x="360.19" y="628.25" width="12.71" height="17.55" fill="#e44a50"/>
<rect x="372.50" y="628.25" width="12.71" height="17.55" fill="#e44c52"/>
<rect x="384.81" y="628.25" width="12.71" height="17.55" fill="#e75d63"/>
<rect x="397.12" y="628.25" width="12.71" height="17.55" fill="#e0363c"/>
<rect x="409.43" y="628.25" width="12.71" height="17.55" fill="#efeff7"/>
<rect x="421.74" y="628.25" width="12.71" height="17.55" fill="#dcdcef"/>
<rect x="434.05" y="628.25" width="12.71" height="17.55" fill="#f09a9e"/>
<rect x="446.36" y="628.25" width="12.71" height="17.55" fill="#ee8287"/>
<rect x="458.67" y="628.25" width="12.31" height="17.55" fill="#f3b0b3"/>
<path d="M317.10,545.02 L317.68,546.58 L319.34,546.65 L318.04,547.68 L318.49,549.28 L317.10,548.36 L315.72,549.28 L316.17,547.68 L314.87,546.65 L316.53,546.58 Z" fill="#111111"/>
<path d="M329.41,545.02 L329.99,546.58 L331.65,546.65 L330.35,547.68 L330.80,549.28 L329.41,548.36 L328.03,549.28 L328.48,547.68 L327.18,546.65 L328.84,546.58 Z" fill="#111111"/>
<path d="M354.03,545.02 L354.61,546.58 L356.27,546.65 L354.97,547.68 L355.42,549.28 L354.03,548.36 L352.65,549.28 L353.10,547.68 L351.80,546.65 L353.46,546.58 Z" fill="#ffffff"/>
<path d="M366.34,545.02 L366.92,546.58 L368.58,546.65 L367.28,547.68 L367.73,549.28 L366.34,548.36 L364.96,549.28 L365.41,547.68 L364.11,546.65 L365.77,546.58 Z" fill="#ffffff"/>
<path d="M378.65,545.02 L379.23,546.58 L380.89,546.65 L379.59,547.68 L380.04,549.28 L378.65,548.36 L377.27,549.28 L377.72,547.68 L376.42,546.65 L378.08,546.58 Z" fill="#ffffff"/>
<path d="M390.96,545.02 L391.54,546.58 L393.20,546.65 L391.90,547.68 L392.35,549.28 L390.96,548.36 L389.58,549.28 L390.03,547.68 L388.73,546.65 L390.39,546.58 Z" fill="#ffffff"/>
<path d="M403.27,545.02 L403.85,546.58 L405.51,546.65 L404.21,547.68 L404.66,549.28 L403.27,548.36 L401.89,549.28 L402.34,547.68 L401.04,546.65 L402.70,546.58 Z" fill="#111111"/>
<path d="M317.10,562.57 L317.68,564.13 L319.34,564.20 L318.04,565.23 L318.49,566.83 L317.10,565.90 L315.72,566.83 L316.17,565.23 L314.87,564.20 L316.53,564.13 Z" fill="#111111"/>
<path d="M329.41,562.57 L329.99,564.13 L331.65,564.20 L330.35,565.23 L330.80,566.83 L329.41,565.90 L328.03,566.83 L328.48,565.23 L327.18,564.20 L328.84,564.13 Z" fill="#ffffff"/>
<path d="M341.72,562.57 L342.30,564.13 L343.96,564.20 L342.66,565.23 L343.11,566.83 L341.72,565.90 L340.34,566.83 L340.79,565.23 L339.49,564.20 L341.15,564.13 Z" fill="#ffffff"/>
<path d="M354.03,562.57 L354.61,564.13 L356.27,564.20 L354.97,565.23 L355.42,566.83 L354.03,565.90 L352.65,566.83 L353.10,565.23 L351.80,564.20 L353.46,564.13 Z" fill="#ffffff"/>
<path d="M366.34,562.57 L366.92,564.13 L368.58,564.20 L367.28,565.23 L367.73,566.83 L366.34,565.90 L364.96,566.83 L365.41,565.23 L364.11,564.20 L365.77,564.13 Z" fill="#ffffff"/>
<path d="M378.65,562.57 L379.23,564.13 L380.89,564.20 L379.59,565.23 L380.04,566.83 L378.65,565.90 L377.27,566.83 L377.72,565.23 L376.42,564.20 L378.08,564.13 Z" fill="#ffffff"/>
<path d="M390.96,562.57 L391.54,564.13 L393.20,564.20 L391.90,565.23 L392.35,566.83 L390.96,565.90 L389.58,566.83 L390.03,565.23 L388.73,564.20 L390.39,564.13 Z" fill="#111111"/>
<path d="M403.27,562.57 L403.85,564.13 L405.51,564.20 L404.21,565.23 L404.66,566.83 L403.27,565.90 L401.89,566.83 L402.34,565.23 L401.04,564.20 L402.70,564.13 Z" fill="#ffffff"/>
<path d="M452.51,562.57 L453.09,564.13 L454.75,564.20 L453.45,565.23 L453.90,566.83 L452.51,565.90 L451.13,566.83 L451.58,565.23 L450.28,564.20 L451.94,564.13 Z" fill="#111111"/>
<path d="M464.82,562.57 L465.40,564.13 L467.06,564.20 L465.76,565.23 L466.21,566.83 L464.82,565.90 L463.44,566.83 L463.89,565.23 L462.59,564.20 L464.25,564.13 Z" fill="#111111"/>
<path d="M317.10,580.12 L317.68,581.68 L319.34,581.75 L318.04,582.78 L318.49,584.38 L317.10,583.46 L315.72,584.38 L316.17,582.78 L314.87,581.75 L316.53,581.68 Z" fill="#111111"/>
<path d="M329.41,580.12 L329.99,581.68 L331.65,581.75 L330.35,582.78 L330.80,584.38 L329.41,583.46 L328.03,584.38 L328.48,582.78 L327.18,581.75 L328.84,581.68 Z" fill="#ffffff"/>
<path d="M341.72,580.12 L342.30,581.68 L343.96,581.75 L342.66,582.78 L343.11,584.38 L341.72,583.46 L340.34,584.38 L340.79,582.78 L339.49,581.75 L341.15,581.68 Z" fill="#ffffff"/>
<path d="M354.03,580.12 L354.61,581.68 L356.27,581.75 L354.97,582.78 L355.42,584.38 L354.03,583.46 L352.65,584.38 L353.10,582.78 L351.80,581.75 L353.46,581.68 Z" fill="#ffffff"/>
<path d="M366.34,580.12 L366.92,581.68 L368.58,581.75 L367.28,582.78 L367.73,584.38 L366.34,583.46 L364.96,584.38 L365.41,582.78 L364.11,581.75 L365.77,581.68 Z" fill="#ffffff"/>
<path d="M378.65,580.12 L379.23,581.68 L380.89,581.75 L379.59,582.78 L380.04,584.38 L378.65,583.46 L377.27,584.38 L377.72,582.78 L376.42,581.75 L378.08,581.68 Z" fill="#ffffff"/>
<path d="M390.96,580.12 L391.54,581.68 L393.20,581.75 L391.90,582.78 L392.35,584.38 L390.96,583.46 L389.58,584.38 L390.03,582.78 L388.73,581.75 L390.39,581.68 Z" fill="#ffffff"/>
<path d="M403.27,580.12 L403.85,581.68 L405.51,581.75 L404.21,582.78 L404.66,584.38 L403.27,583.46 L401.89,584.38 L402.34,582.78 L401.04,581.75 L402.70,581.68 Z" fill="#ffffff"/>
<path d="M452.51,580.12 L453.09,581.68 L454.75,581.75 L453.45,582.78 L453.90,584.38 L452.51,583.46 L451.13,584.38 L451.58,582.78 L450.28,581.75 L451.94,581.68 Z" fill="#111111"/>
<path d="M464.82,580.12 L465.40,581.68 L467.06,581.75 L465.76,582.78 L466.21,584.38 L464.82,583.46 L463.44,584.38 L463.89,582.78 L462.59,581.75 L464.25,581.68 Z" fill="#111111"/>
<path d="M317.10,597.67 L317.68,599.23 L319.34,599.30 L318.04,600.33 L318.49,601.93 L317.10,601.00 L315.72,601.93 L316.17,600.33 L314.87,599.30 L316.53,599.23 Z" fill="#111111"/>
<path d="M329.41,597.67 L329.99,599.23 L331.65,599.30 L330.35,600.33 L330.80,601.93 L329.41,601.00 L328.03,601.93 L328.48,600.33 L327.18,599.30 L328.84,599.23 Z" fill="#ffffff"/>
<path d="M341.72,597.67 L342.30,599.23 L343.96,599.30 L342.66,600.33 L343.11,601.93 L341.72,601.00 L340.34,601.93 L340.79,600.33 L339.49,599.30 L341.15,599.23 Z" fill="#ffffff"/>
<path d="M354.03,597.67 L354.61,599.23 L356.27,599.30 L354.97,600.33 L355.42,601.93 L354.03,601.00 L352.65,601.93 L353.10,600.33 L351.80,599.30 L353.46,599.23 Z" fill="#ffffff"/>
<path d="M366.34,597.67 L366.92,599.23 L368.58,599.30 L367.28,600.33 L367.73,601.93 L366.34,601.00 L364.96,601.93 L365.41,600.33 L364.11,599.30 L365.77,599.23 Z" fill="#ffffff"/>
<path d="M378.65,597.67 L379.23,599.23 L380.89,599.30 L379.59,600.33 L380.04,601.93 L378.65,601.00 L377.27,601.93 L377.72,600.33 L376.42,599.30 L378.08,599.23 Z" fill="#ffffff"/>
<path d="M390.96,597.67 L391.54,599.23 L393.20,599.30 L391.90,600.33 L392.35,601.93 L390.96,601.00 L389.58,601.93 L390.03,600.33 L388.73,599.30 L390.39,599.23 Z" fill="#ffffff"/>
<path d="M403.27,597.67 L403.85,599.23 L405.51,599.30 L404.21,600.33 L404.66,601.93 L403.27,601.00 L401.89,601.93 L402.34,600.33 L401.04,599.30 L402.70,599.23 Z" fill="#ffffff"/>
<path d="M440.20,597.67 L440.78,599.23 L442.44,599.30 L441.14,600.33 L441.59,601.93 L440.20,601.00 L438.82,601.93 L439.27,600.33 L437.97,599.30 L439.63,599.23 Z" fill="#111111"/>
<path d="M452.51,597.67 L453.09,599.23 L454.75,599.30 L453.45,600.33 L453.90,601.93 L452.51,601.00 L451.13,601.93 L451.58,600.33 L450.28,599.30 L451.94,599.23 Z" fill="#111111"/>
<path d="M464.82,597.67 L465.40,599.23 L467.06,599.30 L465.76,600.33 L466.21,601.93 L464.82,601.00 L463.44,601.93 L463.89,600.33 L462.59,599.30 L464.25,599.23 Z" fill="#111111"/>
<path d="M317.10,615.23 L317.68,616.78 L319.34,616.85 L318.04,617.88 L318.49,619.48 L317.10,618.56 L315.72,619.48 L316.17,617.88 L314.87,616.85 L316.53,616.78 Z" fill="#ffffff"/>
<path d="M329.41,615.23 L329.99,616.78 L331.65,616.85 L330.35,617.88 L330.80,619.48 L329.41,618.56 L328.03,619.48 L328.48,617.88 L327.18,616.85 L328.84,616.78 Z" fill="#ffffff"/>
<path d="M341.72,615.23 L342.30,616.78 L343.96,616.85 L342.66,617.88 L343.11,619.48 L341.72,618.56 L340.34,619.48 L340.79,617.88 L339.49,616.85 L341.15,616.78 Z" fill="#ffffff"/>
<path d="M354.03,615.23 L354.61,616.78 L356.27,616.85 L354.97,617.88 L355.42,619.48 L354.03,618.56 L352.65,619.48 L353.10,617.88 L351.80,616.85 L353.46,616.78 Z" fill="#ffffff"/>
<path d="M366.34,615.23 L366.92,616.78 L368.58,616.85 L367.28,617.88 L367.73,619.48 L366.34,618.56 L364.96,619.48 L365.41,617.88 L364.11,616.85 L365.77,616.78 Z" fill="#ffffff"/>
<path d="M378.65,615.23 L379.23,616.78 L380.89,616.85 L379.59,617.88 L380.04,619.48 L378.65,618.56 L377.27,619.48 L377.72,617.88 L376.42,616.85 L378.08,616.78 Z" fill="#ffffff"/>
<path d="M390.96,615.23 L391.54,616.78 L393.20,616.85 L391.90,617.88 L392.35,619.48 L390.96,618.56 L389.58,619.48 L390.03,617.88 L388.73,616.85 L390.39,616.78 Z" fill="#ffffff"/>
<path d="M403.27,615.23 L403.85,616.78 L405.51,616.85 L404.21,617.88 L404.66,619.48 L403.27,618.56 L401.89,619.48 L402.34,617.88 L401.04,616.85 L402.70,616.78 Z" fill="#ffffff"/>
<path d="M440.20,615.23 L440.78,616.78 L442.44,616.85 L441.14,617.88 L441.59,619.48 L440.20,618.56 L438.82,619.48 L439.27,617.88 L437.97,616.85 L439.63,616.78 Z" fill="#111111"/>
<path d="M452.51,615.23 L453.09,616.78 L454.75,616.85 L453.45,617.88 L453.90,619.48 L452.51,618.56 L451.13,619.48 L451.58,617.88 L450.28,616.85 L451.94,616.78 Z" fill="#ffffff"/>
<path d="M464.82,615.23 L465.40,616.78 L467.06,616.85 L465.76,617.88 L466.21,619.48 L464.82,618.56 L463.44,619.48 L463.89,617.88 L462.59,616.85 L464.25,616.78 Z" fill="#111111"/>
<path d="M317.10,632.77 L317.68,634.33 L319.34,634.40 L318.04,635.43 L318.49,637.03 L317.10,636.11 L315.72,637.03 L316.17,635.43 L314.87,634.40 L316.53,634.33 Z" fill="#111111"/>
<path d="M329.41,632.77 L329.99,634.33 L331.65,634.40 L330.35,635.43 L330.80,637.03 L329.41,636.11 L328.03,637.03 L328.48,635.43 L327.18,634.40 L328.84,634.33 Z" fill="#ffffff"/>
<path d="M341.72,632.77 L342.30,634.33 L343.96,634.40 L342.66,635.43 L343.11,637.03 L341.72,636.11 L340.34,637.03 L340.79,635.43 L339.49,634.40 L341.15,634.33 Z" fill="#ffffff"/>
<path d="M354.03,632.77 L354.61,634.33 L356.27,634.40 L354.97,635.43 L355.42,637.03 L354.03,636.11 L352.65,637.03 L353.10,635.43 L351.80,634.40 L353.46,634.33 Z" fill="#ffffff"/>
<path d="M366.34,632.77 L366.92,634.33 L368.58,634.40 L367.28,635.43 L367.73,637.03 L366.34,636.11 L364.96,637.03 L365.41,635.43 L364.11,634.40 L365.77,634.33 Z" fill="#ffffff"/>
<path d="M378.65,632.77 L379.23,634.33 L380.89,634.40 L379.59,635.43 L380.04,637.03 L378.65,636.11 L377.27,637.03 L377.72,635.43 L376.42,634.40 L378.08,634.33 Z" fill="#ffffff"/>
<path d="M390.96,632.77 L391.54,634.33 L393.20,634.40 L391.90,635.43 L392.35,637.03 L390.96,636.11 L389.58,637.03 L390.03,635.43 L388.73,634.40 L390.39,634.33 Z" fill="#ffffff"/>
<path d="M403.27,632.77 L403.85,634.33 L405.51,634.40 L404.21,635.43 L404.66,637.03 L403.27,636.11 L401.89,637.03 L402.34,635.43 L401.04,634.40 L402.70,634.33 Z" fill="#ffffff"/>
<path d="M440.20,632.77 L440.78,634.33 L442.44,634.40 L441.14,635.43 L441.59,637.03 L440.20,636.11 L438.82,637.03 L439.27,635.43 L437.97,634.40 L439.63,634.33 Z" fill="#111111"/>
<path d="M452.51,632.77 L453.09,634.33 L454.75,634.40 L453.45,635.43 L453.90,637.03 L452.51,636.11 L451.13,637.03 L451.58,635.43 L450.28,634.40 L451.94,634.33 Z" fill="#ffffff"/>
<path d="M464.82,632.77 L465.40,634.33 L467.06,634.40 L465.76,635.43 L466.21,637.03 L464.82,636.11 L463.44,637.03 L463.89,635.43 L462.59,634.40 L464.25,634.33 Z" fill="#111111"/>
<line x1="470.98" y1="549.27" x2="474.18" y2="549.27" stroke="#444" stroke-width="0.7"/>
<line x1="470.98" y1="566.83" x2="474.18" y2="566.83" stroke="#444" stroke-width="0.7"/>
<line x1="470.98" y1="584.38" x2="474.18" y2="584.38" stroke="#444" stroke-width="0.7"/>
<line x1="470.98" y1="601.92" x2="474.18" y2="601.92" stroke="#444" stroke-width="0.7"/>
<line x1="470.98" y1="619.48" x2="474.18" y2="619.48" stroke="#444" stroke-width="0.7"/>
<line x1="470.98" y1="637.02" x2="474.18" y2="637.02" stroke="#444" stroke-width="0.7"/>
<text x="390.10" y="377.30" font-size="8.7" fill="#1e1e1e" stroke="#1e1e1e" stroke-width="0.180" text-anchor="middle" textLength="79.80" lengthAdjust="spacingAndGlyphs">Upper EMP pathway</text>
<text x="390.80" y="453.30" font-size="9.0" fill="#1e1e1e" stroke="#1e1e1e" stroke-width="0.180" text-anchor="middle" textLength="145.40" lengthAdjust="spacingAndGlyphs">Strongly regulated PTS components</text>
<text x="391.20" y="536.40" font-size="9.0" fill="#1e1e1e" stroke="#1e1e1e" stroke-width="0.180" text-anchor="middle" textLength="83.20" lengthAdjust="spacingAndGlyphs">Butyrate metabolism</text>
<defs><linearGradient id="dcb" x1="0" y1="0" x2="1" y2="0"><stop offset="0" stop-color="#dc2a2a"/><stop offset="0.5" stop-color="#ffffff"/><stop offset="1" stop-color="#2f46a2"/></linearGradient></defs>
<rect x="438.10" y="370.80" width="34.50" height="5.50" fill="url(#dcb)"/>
<line x1="438.50" y1="368.00" x2="438.50" y2="370.80" stroke="#444" stroke-width="0.7"/>
<line x1="455.40" y1="368.00" x2="455.40" y2="370.80" stroke="#444" stroke-width="0.7"/>
<line x1="472.40" y1="368.00" x2="472.40" y2="370.80" stroke="#444" stroke-width="0.7"/>
<text x="0" y="0" font-size="6.6" fill="#333" stroke="#333" stroke-width="0.126" transform="translate(441.20,363.90) rotate(-90)">2</text>
<text x="0" y="0" font-size="6.6" fill="#333" stroke="#333" stroke-width="0.126" transform="translate(458.00,363.90) rotate(-90)">0</text>
<text x="0" y="0" font-size="6.6" fill="#333" stroke="#333" stroke-width="0.126" transform="translate(475.10,363.90) rotate(-90)">-2</text>
<text x="477.8" y="376.4" font-size="9.0" fill="#2a2a2a" textLength="91.6" lengthAdjust="spacingAndGlyphs">log<tspan font-size="5.6" dy="1.8">2</tspan><tspan dy="-1.8">(co-/mono-culture)</tspan></text>
<text x="477.80" y="390.10" font-size="7.6" fill="#222" stroke="#222" stroke-width="0.180" textLength="152.60" lengthAdjust="spacingAndGlyphs">pfkA CD630_33950 - 6-phosphofructokinase</text>
<text x="477.80" y="401.60" font-size="7.6" fill="#222" stroke="#222" stroke-width="0.180" textLength="162.20" lengthAdjust="spacingAndGlyphs">tpi tpiA CD630_3172 triosephosphate isomerase</text>
<text x="477.80" y="413.10" font-size="7.6" fill="#222" stroke="#222" stroke-width="0.180" textLength="95.70" lengthAdjust="spacingAndGlyphs">CD630_24590 - glucokinase</text>
<text x="477.80" y="424.60" font-size="7.6" fill="#222" stroke="#222" stroke-width="0.180" textLength="177.30" lengthAdjust="spacingAndGlyphs">pgi CD630_32850 - glucose-6-phosphate isomerase</text>
<text x="477.80" y="436.10" font-size="7.6" fill="#222" stroke="#222" stroke-width="0.180" textLength="188.50" lengthAdjust="spacingAndGlyphs">fba CD630_04030 - fructose-1,6-bisphosphate aldolase</text>
<text x="477.80" y="467.60" font-size="7.6" fill="#222" stroke="#222" stroke-width="0.180" textLength="160.60" lengthAdjust="spacingAndGlyphs">bglF5 CD630_31370 β-glucoside-specific IIABC</text>
<text x="477.80" y="484.80" font-size="7.6" fill="#222" stroke="#222" stroke-width="0.180" textLength="109.20" lengthAdjust="spacingAndGlyphs">CD630_30300 glucose-like IIBC</text>
<text x="477.80" y="502.00" font-size="7.6" fill="#222" stroke="#222" stroke-width="0.180" textLength="107.00" lengthAdjust="spacingAndGlyphs">CD630_30270 - glucose-like IIA</text>
<text x="477.80" y="519.20" font-size="7.6" fill="#222" stroke="#222" stroke-width="0.180" textLength="152.60" lengthAdjust="spacingAndGlyphs">ptsG-BC CD630_26670 glucose-specific IIBC</text>
<text x="477.80" y="551.30" font-size="7.6" fill="#222" stroke="#222" stroke-width="0.180" textLength="187.20" lengthAdjust="spacingAndGlyphs">adhE1 CD630_29660 aldehyde-alcohol dehydrogenase</text>
<text x="477.80" y="569.00" font-size="7.6" fill="#222" stroke="#222" stroke-width="0.180" textLength="195.30" lengthAdjust="spacingAndGlyphs">cat1 CD630_23430 succinyl-CoA:coenzyme A transferase</text>
<text x="477.80" y="586.60" font-size="7.6" fill="#222" stroke="#222" stroke-width="0.180" textLength="206.60" lengthAdjust="spacingAndGlyphs">sucD CD630_23420 succinate-semialdehyde dehydrogenase</text>
<text x="477.80" y="604.30" font-size="7.6" fill="#222" stroke="#222" stroke-width="0.180" textLength="186.30" lengthAdjust="spacingAndGlyphs">cat2 CD630_23390 4-hydroxybutyrate CoA transferase</text>
<text x="477.80" y="621.90" font-size="7.6" fill="#222" stroke="#222" stroke-width="0.180" textLength="188.50" lengthAdjust="spacingAndGlyphs">4hbD CD630_23380 4-hydroxybutyrate dehydrogenase</text>
<text x="477.80" y="639.60" font-size="7.6" fill="#222" stroke="#222" stroke-width="0.180" textLength="204.90" lengthAdjust="spacingAndGlyphs">abfD CD630_23410 γ-aminobutyrate dehydratase/isomerase</text>
<line x1="317.07" y1="645.80" x2="317.07" y2="648.60" stroke="#444" stroke-width="0.7"/>
<text x="317.07" y="658.60" font-size="7.3" fill="#2f9a5c" stroke="#2f9a5c" stroke-width="0.126" text-anchor="middle">Bt</text>
<line x1="329.32" y1="645.80" x2="329.32" y2="648.60" stroke="#444" stroke-width="0.7"/>
<text x="329.32" y="658.60" font-size="7.3" fill="#2f9a5c" stroke="#2f9a5c" stroke-width="0.126" text-anchor="middle">Bu</text>
<line x1="341.57" y1="645.80" x2="341.57" y2="648.60" stroke="#444" stroke-width="0.7"/>
<text x="341.57" y="658.60" font-size="7.3" fill="#2f78b8" stroke="#2f78b8" stroke-width="0.126" text-anchor="middle">Lg</text>
<line x1="353.82" y1="645.80" x2="353.82" y2="648.60" stroke="#444" stroke-width="0.7"/>
<text x="353.82" y="658.60" font-size="7.3" fill="#c03f3f" stroke="#c03f3f" stroke-width="0.126" text-anchor="middle">Ec</text>
<line x1="366.07" y1="645.80" x2="366.07" y2="648.60" stroke="#444" stroke-width="0.7"/>
<text x="366.07" y="658.60" font-size="7.3" fill="#c03f3f" stroke="#c03f3f" stroke-width="0.126" text-anchor="middle">Ka</text>
<line x1="378.32" y1="645.80" x2="378.32" y2="648.60" stroke="#444" stroke-width="0.7"/>
<text x="378.32" y="658.60" font-size="7.3" fill="#2f9a5c" stroke="#2f9a5c" stroke-width="0.126" text-anchor="middle">Sc</text>
<line x1="390.57" y1="645.80" x2="390.57" y2="648.60" stroke="#444" stroke-width="0.7"/>
<text x="390.57" y="658.60" font-size="7.3" fill="#2f9a5c" stroke="#2f9a5c" stroke-width="0.126" text-anchor="middle">Pv</text>
<line x1="402.82" y1="645.80" x2="402.82" y2="648.60" stroke="#444" stroke-width="0.7"/>
<text x="402.82" y="658.60" font-size="7.3" fill="#2f9a5c" stroke="#2f9a5c" stroke-width="0.126" text-anchor="middle">Pm</text>
<line x1="415.07" y1="645.80" x2="415.07" y2="648.60" stroke="#444" stroke-width="0.7"/>
<text x="415.07" y="658.60" font-size="7.3" fill="#2f78b8" stroke="#2f78b8" stroke-width="0.126" text-anchor="middle">Cs</text>
<line x1="427.32" y1="645.80" x2="427.32" y2="648.60" stroke="#444" stroke-width="0.7"/>
<text x="427.32" y="658.60" font-size="7.3" fill="#2f78b8" stroke="#2f78b8" stroke-width="0.126" text-anchor="middle">Ar</text>
<line x1="439.57" y1="645.80" x2="439.57" y2="648.60" stroke="#444" stroke-width="0.7"/>
<text x="439.57" y="658.60" font-size="7.3" fill="#7a55bb" stroke="#7a55bb" stroke-width="0.126" text-anchor="middle">Ca</text>
<line x1="451.82" y1="645.80" x2="451.82" y2="648.60" stroke="#444" stroke-width="0.7"/>
<text x="451.82" y="658.60" font-size="7.3" fill="#2f78b8" stroke="#2f78b8" stroke-width="0.126" text-anchor="middle">La</text>
<line x1="464.07" y1="645.80" x2="464.07" y2="648.60" stroke="#444" stroke-width="0.7"/>
<text x="464.07" y="658.60" font-size="7.3" fill="#2f78b8" stroke="#2f78b8" stroke-width="0.126" text-anchor="middle">Rg</text>
<text x="391.40" y="671.60" font-size="8.9" fill="#1e1e1e" stroke="#1e1e1e" stroke-width="0.180" text-anchor="middle" textLength="61.30" lengthAdjust="spacingAndGlyphs">Partner species</text>
<path d="M267.90,374.00 L276.00,374.00" fill="none" stroke="#333" stroke-width="0.6" stroke-linejoin="round"/>
<path d="M278.60,375.40 L284.40,380.60" fill="none" stroke="#333" stroke-width="0.6" stroke-linejoin="round"/>
<path d="M284.40,380.60 L280.00,384.50 L265.60,384.50 L261.60,380.60" fill="none" stroke="#333" stroke-width="1.1" stroke-linejoin="round"/>
<path d="M261.60,380.60 L267.90,374.00" fill="none" stroke="#333" stroke-width="0.6" stroke-linejoin="round"/>
<path d="M267.90,374.00 L267.90,368.30" fill="none" stroke="#333" stroke-width="0.6" stroke-linejoin="round"/>
<text x="277.40" y="375.30" font-size="3.4" fill="#333" text-anchor="middle">O</text>
<text x="271.60" y="367.60" font-size="3.0" fill="#333" text-anchor="middle">CH₂OH</text>
<path d="M261.60,380.60 L261.60,386.00" fill="none" stroke="#333" stroke-width="0.6" stroke-linejoin="round"/>
<text x="262.00" y="389.20" font-size="3.0" fill="#333" text-anchor="middle">OH</text>
<path d="M265.60,384.50 L265.60,379.00" fill="none" stroke="#333" stroke-width="0.6" stroke-linejoin="round"/>
<text x="267.30" y="379.20" font-size="3.0" fill="#333" text-anchor="middle">OH</text>
<path d="M284.40,380.60 L284.40,386.00" fill="none" stroke="#333" stroke-width="0.6" stroke-linejoin="round"/>
<text x="285.70" y="389.20" font-size="3.0" fill="#333" text-anchor="middle">OH</text>
<path d="M280.00,384.50 L280.00,389.00" fill="none" stroke="#333" stroke-width="0.6" stroke-linejoin="round"/>
<text x="280.50" y="392.00" font-size="3.0" fill="#333" text-anchor="middle">OH</text>
<text x="272.00" y="398.10" font-size="7.2" fill="#1e1e1e" stroke="#1e1e1e" stroke-width="0.126" text-anchor="middle" textLength="26.30" lengthAdjust="spacingAndGlyphs">Glucose</text>
<line x1="272.30" y1="401.00" x2="272.30" y2="407.60" stroke="#111" stroke-width="0.7"/>
<path d="M270.70,407.10 L273.90,407.10 L272.30,410.70 Z" fill="#111"/>
<path d="M253.50,421.20 L256.60,421.20" fill="none" stroke="#333" stroke-width="0.5" stroke-linejoin="round"/>
<path d="M258.80,421.20 L261.80,421.40" fill="none" stroke="#333" stroke-width="0.5" stroke-linejoin="round"/>
<path d="M263.80,421.40 L268.20,418.40 L272.60,421.40 L276.60,418.40 L280.60,421.40" fill="none" stroke="#333" stroke-width="0.5" stroke-linejoin="round"/>
<path d="M268.20,418.40 L268.20,414.50" fill="none" stroke="#333" stroke-width="0.5" stroke-linejoin="round"/>
<path d="M268.90,418.40 L268.90,414.50" fill="none" stroke="#333" stroke-width="0.5" stroke-linejoin="round"/>
<path d="M272.60,421.40 L272.60,425.60" fill="none" stroke="#333" stroke-width="0.9" stroke-linejoin="round"/>
<path d="M257.70,420.00 L257.70,416.00" fill="none" stroke="#333" stroke-width="0.5" stroke-linejoin="round"/>
<path d="M258.30,420.00 L258.30,416.00" fill="none" stroke="#333" stroke-width="0.5" stroke-linejoin="round"/>
<path d="M257.90,422.40 L257.90,425.00" fill="none" stroke="#333" stroke-width="0.5" stroke-linejoin="round"/>
<path d="M282.40,421.40 L285.80,421.20" fill="none" stroke="#333" stroke-width="0.5" stroke-linejoin="round"/>
<path d="M287.90,421.20 L291.00,421.20" fill="none" stroke="#333" stroke-width="0.5" stroke-linejoin="round"/>
<path d="M286.90,420.00 L286.90,416.00" fill="none" stroke="#333" stroke-width="0.5" stroke-linejoin="round"/>
<path d="M287.50,420.00 L287.50,416.00" fill="none" stroke="#333" stroke-width="0.5" stroke-linejoin="round"/>
<path d="M287.10,422.40 L287.10,425.00" fill="none" stroke="#333" stroke-width="0.5" stroke-linejoin="round"/>
<text x="252.00" y="422.30" font-size="2.9" fill="#333" text-anchor="middle">O</text>
<text x="257.70" y="422.30" font-size="2.9" fill="#333" text-anchor="middle">P</text>
<text x="263.00" y="422.60" font-size="2.9" fill="#333" text-anchor="middle">O</text>
<text x="281.30" y="422.60" font-size="2.9" fill="#333" text-anchor="middle">O</text>
<text x="287.00" y="422.30" font-size="2.9" fill="#333" text-anchor="middle">P</text>
<text x="292.70" y="422.30" font-size="2.9" fill="#333" text-anchor="middle">O</text>
<text x="257.90" y="415.60" font-size="2.9" fill="#333" text-anchor="middle">O</text>
<text x="287.20" y="415.60" font-size="2.9" fill="#333" text-anchor="middle">O</text>
<text x="268.50" y="414.20" font-size="2.9" fill="#333" text-anchor="middle">O</text>
<text x="258.10" y="427.60" font-size="2.9" fill="#333" text-anchor="middle">O</text>
<text x="287.30" y="427.60" font-size="2.9" fill="#333" text-anchor="middle">O</text>
<text x="272.60" y="428.80" font-size="2.9" fill="#333" text-anchor="middle">OH</text>
<text x="272.10" y="434.90" font-size="7.2" fill="#1e1e1e" stroke="#1e1e1e" stroke-width="0.126" text-anchor="middle" textLength="42.20" lengthAdjust="spacingAndGlyphs">Bis-phospho-</text>
<text x="272.10" y="443.20" font-size="7.2" fill="#1e1e1e" stroke="#1e1e1e" stroke-width="0.126" text-anchor="middle" textLength="28.90" lengthAdjust="spacingAndGlyphs">glycerate</text>
<text x="261.90" y="461.60" font-size="7.1" fill="#1e1e1e" stroke="#1e1e1e" stroke-width="0.126" text-anchor="end" textLength="30.00" lengthAdjust="spacingAndGlyphs">Substrate</text>
<path d="M265.40,459.00 L267.54,455.60 L275.16,455.60 L277.30,459.00 L275.16,462.40 L267.54,462.40 L265.40,459.00" fill="#fff" stroke="#333" stroke-width="0.6" stroke-linejoin="round"/>
<path d="M271.40,462.40 L271.40,469.00" fill="none" stroke="#333" stroke-width="0.7" stroke-linejoin="round"/>
<defs><pattern id="mem" width="1.6" height="6" patternUnits="userSpaceOnUse"><rect width="1.6" height="6" fill="#dfe7f3"/><rect width="0.7" height="6" fill="#c3d1e8"/></pattern></defs>
<rect x="260.00" y="473.20" width="35.70" height="5.90" fill="url(#mem)"/>
<rect x="264.3" y="469.1" width="15.3" height="13.6" rx="1.6" fill="#c9c9d6" stroke="#333" stroke-width="0.6"/>
<path d="M271.6,479.2 Q272.2,479.0 272.7,479.6 L280.9,487.9 Q281.6,488.6 280.9,489.3 L272.7,497.6 Q271.6,498.6 270.5,497.6 L262.3,489.3 Q261.6,488.6 262.3,487.9 L270.5,479.6 Q271.0,479.0 271.6,479.2 Z" fill="#c9c9d6" stroke="#333" stroke-width="0.6"/>
<circle cx="271.6" cy="502.3" r="8.4" fill="#c9c9d6" stroke="#333" stroke-width="0.6"/>
<text x="256.90" y="478.50" font-size="7.1" fill="#1e1e1e" stroke="#1e1e1e" stroke-width="0.126" text-anchor="end" textLength="9.10" lengthAdjust="spacingAndGlyphs">IIC</text>
<text x="256.90" y="491.60" font-size="7.1" fill="#1e1e1e" stroke="#1e1e1e" stroke-width="0.126" text-anchor="end" textLength="9.10" lengthAdjust="spacingAndGlyphs">IIB</text>
<text x="256.90" y="505.30" font-size="7.1" fill="#1e1e1e" stroke="#1e1e1e" stroke-width="0.126" text-anchor="end" textLength="9.10" lengthAdjust="spacingAndGlyphs">IIA</text>
<line x1="271.30" y1="510.70" x2="271.30" y2="515.50" stroke="#111" stroke-width="0.7"/>
<path d="M269.70,515.00 L272.90,515.00 L271.30,518.60 Z" fill="#111"/>
<path d="M261.00,526.00 L263.05,522.30 L270.35,522.30 L272.40,526.00 L270.35,529.70 L263.05,529.70 L261.00,526.00" fill="#fff" stroke="#333" stroke-width="0.6" stroke-linejoin="round"/>
<path d="M272.40,526.00 L276.00,526.00" fill="none" stroke="#333" stroke-width="0.5" stroke-linejoin="round"/>
<path d="M278.40,525.80 L281.40,525.80" fill="none" stroke="#333" stroke-width="0.5" stroke-linejoin="round"/>
<path d="M283.60,525.80 L286.80,525.80" fill="none" stroke="#333" stroke-width="0.5" stroke-linejoin="round"/>
<path d="M282.30,524.60 L282.30,520.20" fill="none" stroke="#333" stroke-width="0.5" stroke-linejoin="round"/>
<path d="M282.90,524.60 L282.90,520.20" fill="none" stroke="#333" stroke-width="0.5" stroke-linejoin="round"/>
<path d="M282.60,527.00 L282.60,529.40" fill="none" stroke="#333" stroke-width="0.5" stroke-linejoin="round"/>
<text x="277.20" y="526.90" font-size="3.0" fill="#333" text-anchor="middle">O</text>
<text x="282.60" y="526.90" font-size="3.0" fill="#333" text-anchor="middle">P</text>
<text x="282.60" y="520.00" font-size="3.0" fill="#333" text-anchor="middle">O</text>
<text x="288.40" y="526.90" font-size="3.0" fill="#333" text-anchor="middle">O⁻</text>
<text x="282.80" y="532.30" font-size="3.0" fill="#333" text-anchor="middle">O⁻</text>
<path d="M252.40,559.90 L259.00,563.50 L267.20,558.40 L275.90,563.50 L283.80,558.40 L290.80,562.80" fill="none" stroke="#222" stroke-width="0.8" stroke-linejoin="round"/>
<path d="M258.60,563.80 L258.60,571.20" fill="none" stroke="#333" stroke-width="0.7" stroke-linejoin="round"/>
<path d="M259.60,563.80 L259.60,571.20" fill="none" stroke="#333" stroke-width="0.7" stroke-linejoin="round"/>
<path d="M283.40,558.00 L283.40,551.00" fill="none" stroke="#333" stroke-width="0.7" stroke-linejoin="round"/>
<path d="M284.40,558.00 L284.40,551.00" fill="none" stroke="#333" stroke-width="0.7" stroke-linejoin="round"/>
<text x="250.20" y="561.00" font-size="5.4" fill="#222" stroke="#222" stroke-width="0.126" text-anchor="middle">O</text>
<text x="259.00" y="575.80" font-size="5.4" fill="#222" stroke="#222" stroke-width="0.126" text-anchor="middle">O</text>
<text x="283.90" y="551.20" font-size="5.4" fill="#222" stroke="#222" stroke-width="0.126" text-anchor="middle">O</text>
<text x="292.40" y="566.00" font-size="5.4" fill="#222" stroke="#222" stroke-width="0.126" text-anchor="middle">O</text>
<text x="245.80" y="559.00" font-size="4.5" fill="#222" text-anchor="middle">−</text>
<text x="275.60" y="582.10" font-size="7.1" fill="#1e1e1e" stroke="#1e1e1e" stroke-width="0.126" text-anchor="middle" textLength="31.20" lengthAdjust="spacingAndGlyphs">Succinate</text>
<line x1="277.10" y1="587.00" x2="277.10" y2="594.10" stroke="#111" stroke-width="0.7"/>
<path d="M275.50,593.60 L278.70,593.60 L277.10,597.20 Z" fill="#111"/>
<path d="M257.30,622.30 L265.60,617.30 L273.70,622.30 L281.00,617.90 L287.00,621.20" fill="none" stroke="#222" stroke-width="0.8" stroke-linejoin="round"/>
<path d="M280.50,617.60 L280.50,611.20" fill="none" stroke="#333" stroke-width="0.7" stroke-linejoin="round"/>
<path d="M281.50,617.60 L281.50,611.20" fill="none" stroke="#333" stroke-width="0.7" stroke-linejoin="round"/>
<text x="281.00" y="610.60" font-size="5.4" fill="#222" stroke="#222" stroke-width="0.126" text-anchor="middle">O</text>
<text x="289.00" y="623.80" font-size="5.4" fill="#222" stroke="#222" stroke-width="0.126" text-anchor="middle">O</text>
<text x="292.20" y="620.40" font-size="4.5" fill="#222" text-anchor="middle">−</text>
<text x="276.30" y="633.50" font-size="7.1" fill="#1e1e1e" stroke="#1e1e1e" stroke-width="0.126" text-anchor="middle" textLength="26.50" lengthAdjust="spacingAndGlyphs">Butyrate</text>
</svg></body></html>
